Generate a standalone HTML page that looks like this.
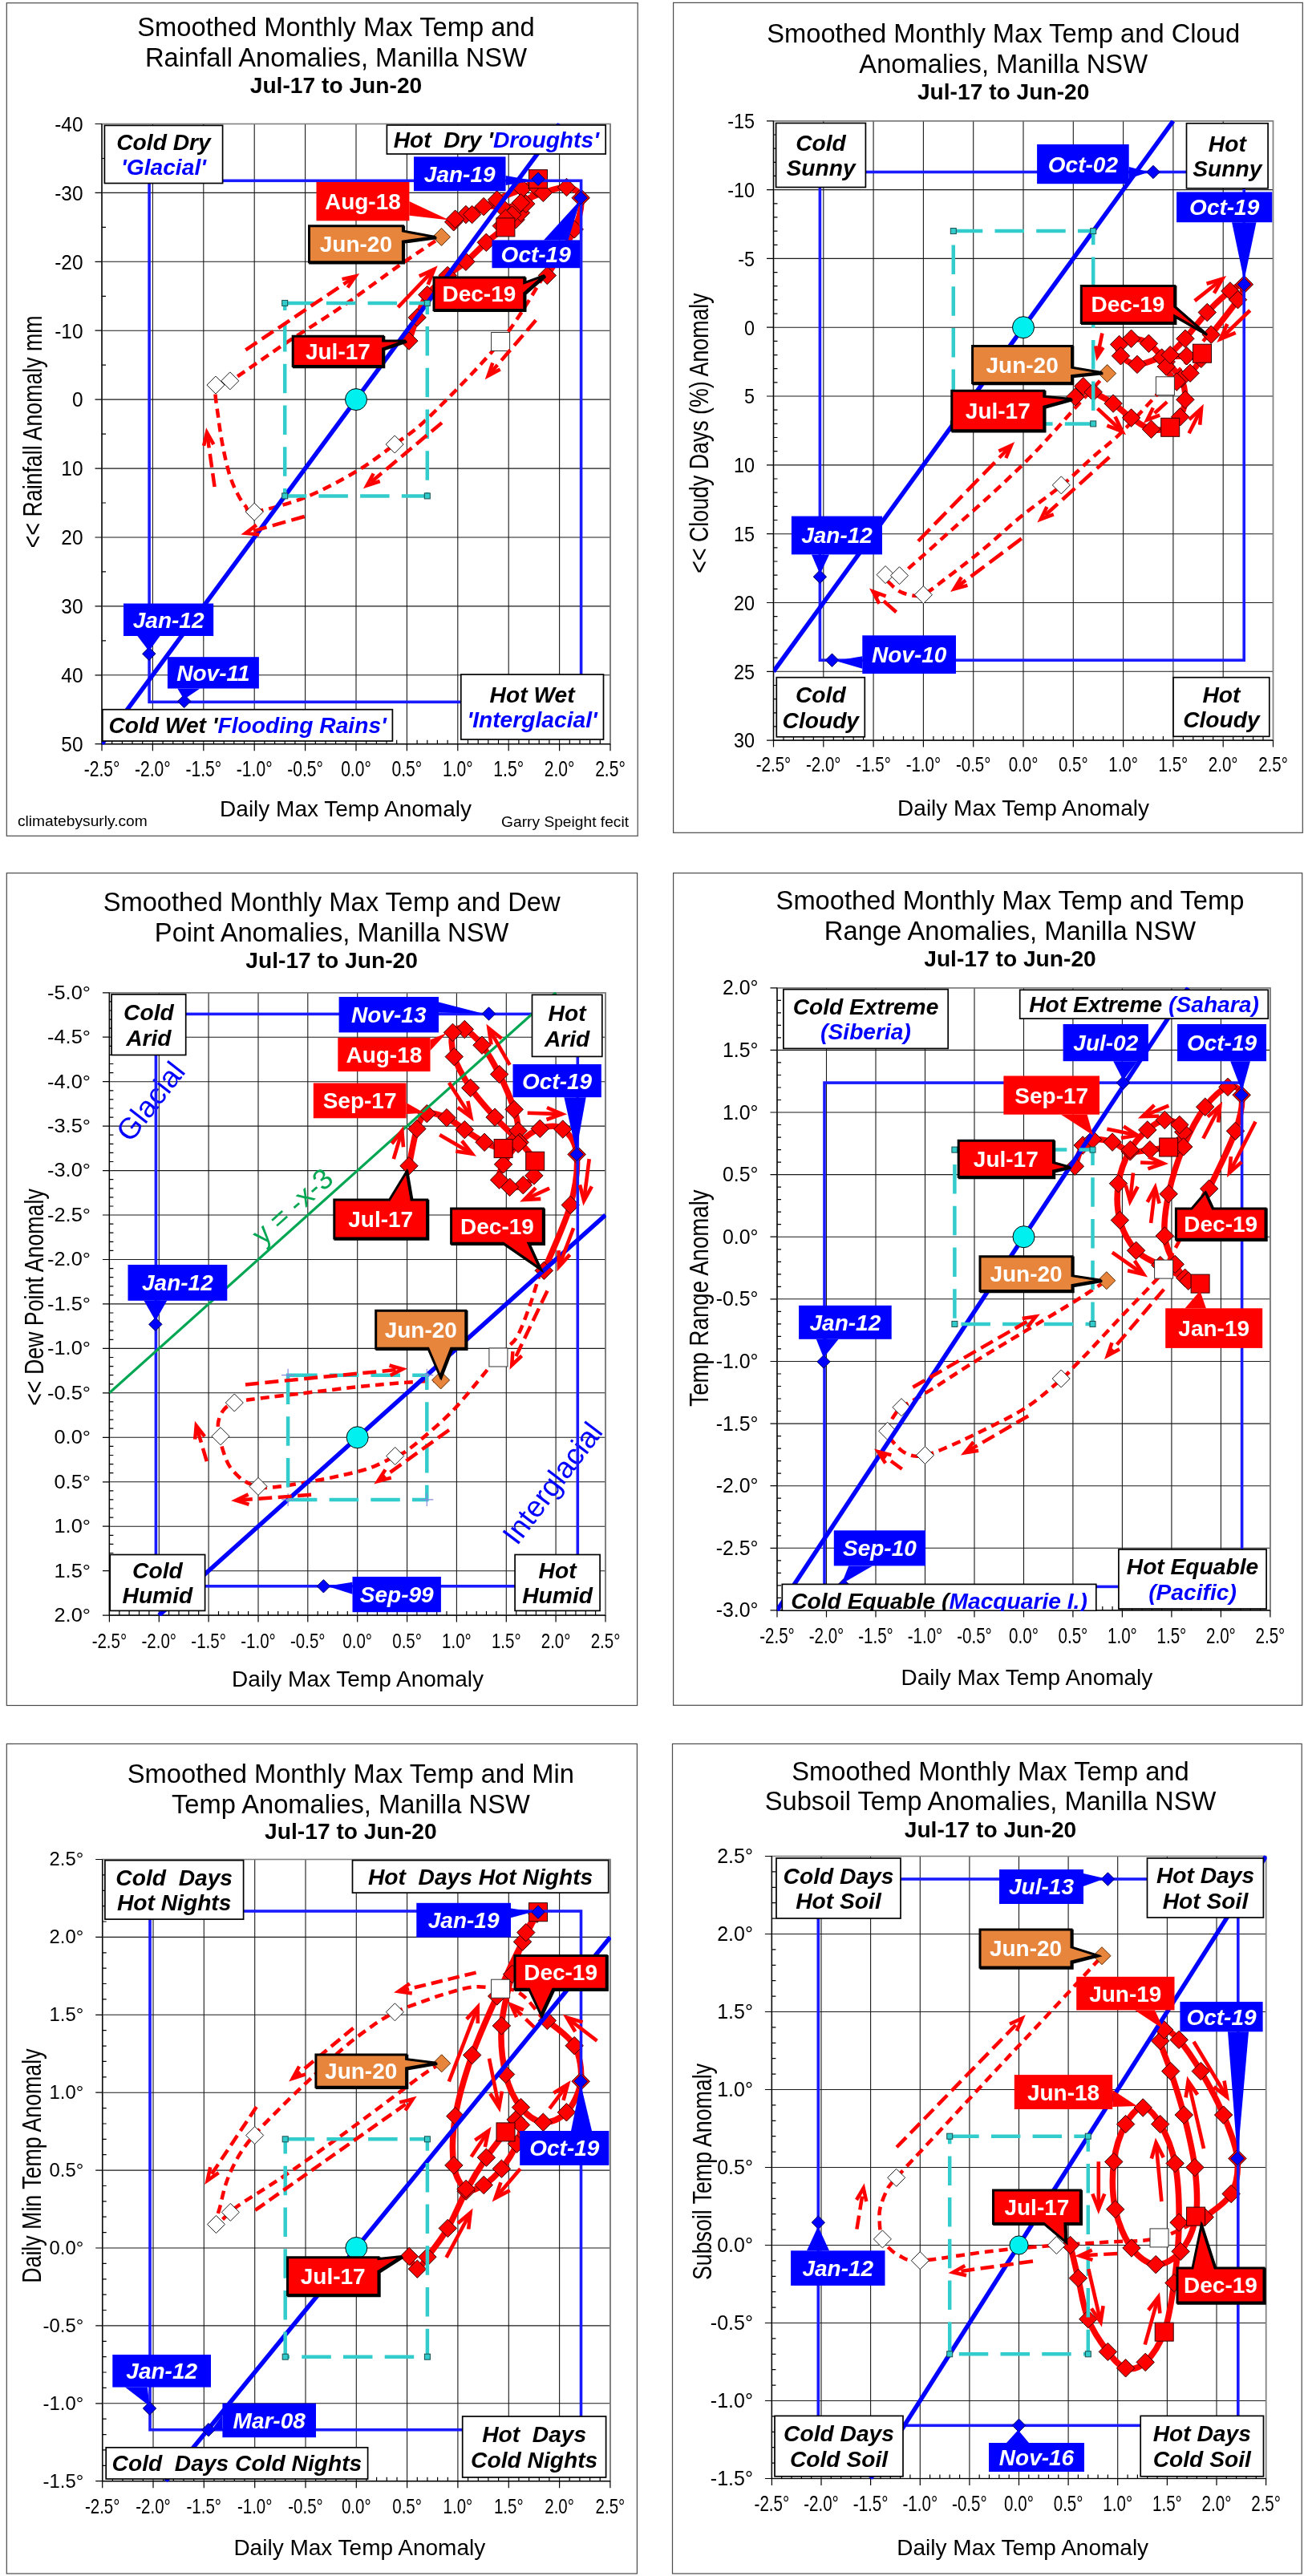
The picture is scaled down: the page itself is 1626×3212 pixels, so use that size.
<!DOCTYPE html>
<html><head><meta charset="utf-8"><title>Manilla NSW climate anomalies</title>
<style>
html,body{margin:0;padding:0;background:#fff;}
svg{display:block;font-family:"Liberation Sans",sans-serif;will-change:transform;}
</style></head><body>
<svg width="1626" height="3212" viewBox="0 0 1626 3212" font-family="Liberation Sans, sans-serif">
<rect width="1626" height="3212" fill="#fff"/>
<g id="p1"><rect x="8.3" y="3.7" width="786.9000000000001" height="1038.6" fill="#fff" stroke="#4a4a4a" stroke-width="1.2"/>
<text x="419.0" y="45.3" font-size="32.7" font-weight="normal" font-style="normal" fill="#000" text-anchor="middle" >Smoothed Monthly Max Temp and</text>
<text x="419.0" y="83.3" font-size="32.7" font-weight="normal" font-style="normal" fill="#000" text-anchor="middle" >Rainfall Anomalies, Manilla NSW</text>
<text x="419.0" y="115.9" font-size="28.2" font-weight="bold" font-style="normal" fill="#000" text-anchor="middle" >Jul-17 to Jun-20</text>
<path d="M127.0,154.5V927.7M190.4,154.5V927.7M253.8,154.5V927.7M317.2,154.5V927.7M380.6,154.5V927.7M444.0,154.5V927.7M507.4,154.5V927.7M570.8,154.5V927.7M634.2,154.5V927.7M697.6,154.5V927.7M761.0,154.5V927.7M127,154.5H761M127,240.4H761M127,326.3H761M127,412.2H761M127,498.1H761M127,584.1H761M127,670.0H761M127,755.9H761M127,841.8H761M127,927.7H761" stroke="#1a1a1a" stroke-width="1.1" fill="none"/>
<rect x="127" y="154.5" width="634" height="773.2" fill="none" stroke="#808080" stroke-width="1.6"/>
<path d="M127,154.5V927.7M127,927.7H761M127.0,927.7v8.5M139.7,927.7v-5M152.4,927.7v-5M165.0,927.7v-5M177.7,927.7v-5M190.4,927.7v8.5M203.1,927.7v-5M215.8,927.7v-5M228.4,927.7v-5M241.1,927.7v-5M253.8,927.7v8.5M266.5,927.7v-5M279.2,927.7v-5M291.8,927.7v-5M304.5,927.7v-5M317.2,927.7v8.5M329.9,927.7v-5M342.6,927.7v-5M355.2,927.7v-5M367.9,927.7v-5M380.6,927.7v8.5M393.3,927.7v-5M406.0,927.7v-5M418.6,927.7v-5M431.3,927.7v-5M444.0,927.7v8.5M456.7,927.7v-5M469.4,927.7v-5M482.0,927.7v-5M494.7,927.7v-5M507.4,927.7v8.5M520.1,927.7v-5M532.8,927.7v-5M545.4,927.7v-5M558.1,927.7v-5M570.8,927.7v8.5M583.5,927.7v-5M596.2,927.7v-5M608.8,927.7v-5M621.5,927.7v-5M634.2,927.7v8.5M646.9,927.7v-5M659.6,927.7v-5M672.2,927.7v-5M684.9,927.7v-5M697.6,927.7v8.5M710.3,927.7v-5M723.0,927.7v-5M735.6,927.7v-5M748.3,927.7v-5M761.0,927.7v8.5M127,154.5h-8.5M127,240.4h-8.5M127,326.3h-8.5M127,412.2h-8.5M127,498.1h-8.5M127,584.1h-8.5M127,670.0h-8.5M127,755.9h-8.5M127,841.8h-8.5M127,927.7h-8.5M127,197.5h5M127,283.4h5M127,369.3h5M127,455.2h5M127,541.1h5M127,627.0h5M127,712.9h5M127,798.8h5M127,884.7h5" stroke="#000" stroke-width="1.2" fill="none"/>
<text transform="translate(127.0,967.5) scale(0.78,1)" font-size="27" fill="#000" text-anchor="middle">-2.5°</text>
<text transform="translate(190.4,967.5) scale(0.78,1)" font-size="27" fill="#000" text-anchor="middle">-2.0°</text>
<text transform="translate(253.8,967.5) scale(0.78,1)" font-size="27" fill="#000" text-anchor="middle">-1.5°</text>
<text transform="translate(317.2,967.5) scale(0.78,1)" font-size="27" fill="#000" text-anchor="middle">-1.0°</text>
<text transform="translate(380.6,967.5) scale(0.78,1)" font-size="27" fill="#000" text-anchor="middle">-0.5°</text>
<text transform="translate(444.0,967.5) scale(0.78,1)" font-size="27" fill="#000" text-anchor="middle">0.0°</text>
<text transform="translate(507.4,967.5) scale(0.78,1)" font-size="27" fill="#000" text-anchor="middle">0.5°</text>
<text transform="translate(570.8,967.5) scale(0.78,1)" font-size="27" fill="#000" text-anchor="middle">1.0°</text>
<text transform="translate(634.2,967.5) scale(0.78,1)" font-size="27" fill="#000" text-anchor="middle">1.5°</text>
<text transform="translate(697.6,967.5) scale(0.78,1)" font-size="27" fill="#000" text-anchor="middle">2.0°</text>
<text transform="translate(761.0,967.5) scale(0.78,1)" font-size="27" fill="#000" text-anchor="middle">2.5°</text>
<text transform="translate(103.5,163.8) scale(0.94,1)" font-size="26" fill="#000" text-anchor="end">-40</text>
<text transform="translate(103.5,249.7) scale(0.94,1)" font-size="26" fill="#000" text-anchor="end">-30</text>
<text transform="translate(103.5,335.6) scale(0.94,1)" font-size="26" fill="#000" text-anchor="end">-20</text>
<text transform="translate(103.5,421.5) scale(0.94,1)" font-size="26" fill="#000" text-anchor="end">-10</text>
<text transform="translate(103.5,507.4) scale(0.94,1)" font-size="26" fill="#000" text-anchor="end">0</text>
<text transform="translate(103.5,593.4) scale(0.94,1)" font-size="26" fill="#000" text-anchor="end">10</text>
<text transform="translate(103.5,679.3) scale(0.94,1)" font-size="26" fill="#000" text-anchor="end">20</text>
<text transform="translate(103.5,765.2) scale(0.94,1)" font-size="26" fill="#000" text-anchor="end">30</text>
<text transform="translate(103.5,851.1) scale(0.94,1)" font-size="26" fill="#000" text-anchor="end">40</text>
<text transform="translate(103.5,937.0) scale(0.94,1)" font-size="26" fill="#000" text-anchor="end">50</text>
<text transform="translate(431.0,1017.5) scale(1.0,1)" font-size="28" fill="#000" text-anchor="middle">Daily Max Temp Anomaly</text>
<text transform="translate(51.7,538.3) rotate(-90) scale(0.787,1)" font-size="34" text-anchor="middle">&lt;&lt; Rainfall Anomaly mm</text>
<clipPath id="clip1"><rect x="127" y="153.5" width="635" height="775.2"/></clipPath>
<path d="M678.6,343.5C669.5,357.3 648.0,396.6 624.1,426.0C600.1,455.4 556.9,498.7 534.9,520.1C512.9,541.4 507.2,542.7 492.2,554.0C477.2,565.2 463.4,576.5 444.8,587.5C426.2,598.5 401.9,611.7 380.6,620.1C359.3,628.6 329.6,636.3 317.2,638.2C304.8,640.0 309.7,634.9 306.3,631.3C302.9,627.7 299.9,622.9 296.7,616.7C293.4,610.5 290.0,603.5 287.0,594.4C284.1,585.2 281.3,573.6 278.9,561.7C276.5,549.8 274.2,536.7 272.6,523.1C270.9,509.5 266.6,488.1 269.0,480.1C271.4,472.1 282.3,476.7 286.8,474.9C291.2,473.2 283.8,477.8 295.6,469.8C307.5,461.8 336.2,441.3 357.8,426.8C379.4,412.4 401.7,399.2 425.4,383.0C449.0,366.8 478.7,344.4 499.5,329.8C520.4,315.2 542.0,301.1 550.5,295.4" fill="none" stroke="#FF0000" stroke-width="4.5" stroke-dasharray="11 7"/>
<path d="M509.9,425.1C511.6,420.3 516.3,405.5 520.1,395.9C523.9,386.3 526.4,376.3 532.8,367.6C539.1,358.8 550.1,350.4 558.1,343.5C566.2,336.6 572.9,333.2 580.9,326.3C589.0,319.4 598.1,309.4 606.3,302.3C614.5,295.1 624.3,288.1 630.4,283.4C636.5,278.6 639.9,276.9 643.1,273.9C646.2,270.9 649.2,267.9 649.4,265.3C649.6,262.7 648.4,259.7 644.3,258.5C640.3,257.2 632.2,257.7 625.3,257.6C618.5,257.5 610.5,255.9 603.1,257.6C595.7,259.2 587.2,264.3 580.9,267.5C574.7,270.7 567.9,275.9 565.7,276.8C563.5,277.8 563.8,274.6 567.6,273.1C571.4,271.5 579.9,271.5 588.6,267.5C597.2,263.5 609.1,254.4 619.6,249.0C630.1,243.6 642.9,239.6 651.4,235.3C660.0,231.0 667.9,223.4 671.0,223.2C674.0,223.1 672.2,229.2 669.7,234.4C667.2,239.6 660.9,248.6 655.8,254.2C650.6,259.7 643.7,263.3 638.6,267.9C633.6,272.5 626.7,280.9 625.3,281.6C624.0,282.4 626.4,277.0 630.4,272.2C634.4,267.4 641.6,258.1 649.4,252.8C657.2,247.5 667.8,243.6 677.3,240.4C686.8,237.2 698.7,232.5 706.5,233.5C714.3,234.6 722.6,237.9 724.2,246.7C725.9,255.4 723.2,269.8 716.2,285.9C709.3,302.1 688.0,333.9 682.4,343.5" fill="none" stroke="#FF0000" stroke-width="7.5" stroke-linejoin="round"/>
<path d="M509.9,413.9L521.1,425.1L509.9,436.3L498.7,425.1Z" fill="#FF0000" stroke="#300000" stroke-width="1"/>
<path d="M520.1,384.7L531.3,395.9L520.1,407.1L508.9,395.9Z" fill="#FF0000" stroke="#300000" stroke-width="1"/>
<path d="M532.8,356.4L544.0,367.6L532.8,378.8L521.6,367.6Z" fill="#FF0000" stroke="#300000" stroke-width="1"/>
<path d="M558.1,332.3L569.3,343.5L558.1,354.7L546.9,343.5Z" fill="#FF0000" stroke="#300000" stroke-width="1"/>
<path d="M580.9,315.1L592.1,326.3L580.9,337.5L569.7,326.3Z" fill="#FF0000" stroke="#300000" stroke-width="1"/>
<path d="M606.3,291.1L617.5,302.3L606.3,313.5L595.1,302.3Z" fill="#FF0000" stroke="#300000" stroke-width="1"/>
<path d="M643.1,262.7L654.3,273.9L643.1,285.1L631.9,273.9Z" fill="#FF0000" stroke="#300000" stroke-width="1"/>
<path d="M649.4,254.1L660.6,265.3L649.4,276.5L638.2,265.3Z" fill="#FF0000" stroke="#300000" stroke-width="1"/>
<path d="M644.3,247.3L655.5,258.5L644.3,269.7L633.1,258.5Z" fill="#FF0000" stroke="#300000" stroke-width="1"/>
<path d="M625.3,246.4L636.5,257.6L625.3,268.8L614.1,257.6Z" fill="#FF0000" stroke="#300000" stroke-width="1"/>
<path d="M603.1,246.4L614.3,257.6L603.1,268.8L591.9,257.6Z" fill="#FF0000" stroke="#300000" stroke-width="1"/>
<path d="M580.9,256.3L592.1,267.5L580.9,278.7L569.7,267.5Z" fill="#FF0000" stroke="#300000" stroke-width="1"/>
<path d="M565.7,265.6L576.9,276.8L565.7,288.0L554.5,276.8Z" fill="#FF0000" stroke="#300000" stroke-width="1"/>
<path d="M567.6,261.9L578.8,273.1L567.6,284.3L556.4,273.1Z" fill="#FF0000" stroke="#300000" stroke-width="1"/>
<path d="M588.6,256.3L599.8,267.5L588.6,278.7L577.4,267.5Z" fill="#FF0000" stroke="#300000" stroke-width="1"/>
<path d="M619.6,237.8L630.8,249.0L619.6,260.2L608.4,249.0Z" fill="#FF0000" stroke="#300000" stroke-width="1"/>
<path d="M651.4,224.1L662.6,235.3L651.4,246.5L640.2,235.3Z" fill="#FF0000" stroke="#300000" stroke-width="1"/>
<path d="M669.7,223.2L680.9,234.4L669.7,245.6L658.5,234.4Z" fill="#FF0000" stroke="#300000" stroke-width="1"/>
<path d="M655.8,243.0L667.0,254.2L655.8,265.4L644.6,254.2Z" fill="#FF0000" stroke="#300000" stroke-width="1"/>
<path d="M638.6,256.7L649.8,267.9L638.6,279.1L627.4,267.9Z" fill="#FF0000" stroke="#300000" stroke-width="1"/>
<path d="M625.3,270.4L636.5,281.6L625.3,292.8L614.1,281.6Z" fill="#FF0000" stroke="#300000" stroke-width="1"/>
<path d="M630.4,261.0L641.6,272.2L630.4,283.4L619.2,272.2Z" fill="#FF0000" stroke="#300000" stroke-width="1"/>
<path d="M649.4,241.6L660.6,252.8L649.4,264.0L638.2,252.8Z" fill="#FF0000" stroke="#300000" stroke-width="1"/>
<path d="M677.3,229.2L688.5,240.4L677.3,251.6L666.1,240.4Z" fill="#FF0000" stroke="#300000" stroke-width="1"/>
<path d="M706.5,222.3L717.7,233.5L706.5,244.7L695.3,233.5Z" fill="#FF0000" stroke="#300000" stroke-width="1"/>
<path d="M724.2,235.5L735.4,246.7L724.2,257.9L713.0,246.7Z" fill="#FF0000" stroke="#300000" stroke-width="1"/>
<path d="M716.2,274.7L727.4,285.9L716.2,297.1L705.0,285.9Z" fill="#FF0000" stroke="#300000" stroke-width="1"/>
<path d="M682.4,332.3L693.6,343.5L682.4,354.7L671.2,343.5Z" fill="#FF0000" stroke="#300000" stroke-width="1"/>
<rect x="612.6" y="414.5" width="23.0" height="23.0" fill="#fff" stroke="#333" stroke-width="1"/>
<path d="M492.2,543.0L503.2,554.0L492.2,565.0L481.2,554.0Z" fill="#fff" stroke="#222" stroke-width="1"/>
<path d="M317.2,627.2L328.2,638.2L317.2,649.2L306.2,638.2Z" fill="#fff" stroke="#222" stroke-width="1"/>
<path d="M269.0,469.1L280.0,480.1L269.0,491.1L258.0,480.1Z" fill="#fff" stroke="#222" stroke-width="1"/>
<path d="M286.8,463.9L297.8,474.9L286.8,485.9L275.8,474.9Z" fill="#fff" stroke="#222" stroke-width="1"/>
<path d="M550.5,284.4L561.5,295.4L550.5,306.4L539.5,295.4Z" fill="#E8853D" stroke="#5a2a00" stroke-width="1"/>
<rect x="618.9" y="271.9" width="23.0" height="23.0" fill="#FF0000" stroke="#300000" stroke-width="1"/>
<rect x="659.5" y="211.7" width="23.0" height="23.0" fill="#FF0000" stroke="#300000" stroke-width="1"/>
<g clip-path="url(#clip1)">
<rect x="186.1" y="225.3" width="538.5" height="650.0" fill="none" stroke="#1a1aff" stroke-width="3.6"/>
<line x1="127.0" y1="927.7" x2="697.6" y2="154.5" stroke="#0000FF" stroke-width="5.5"/>
</g>
<path d="M355.2,377.9H532.8V618.4H355.2Z" fill="none" stroke="#33CCCC" stroke-width="4.5" stroke-dasharray="36.5 15.2" stroke-dashoffset="0"/>
<rect x="351.7" y="374.4" width="7" height="7" fill="#33CCCC" stroke="#1a4d4d" stroke-width="1"/>
<rect x="529.3" y="374.4" width="7" height="7" fill="#33CCCC" stroke="#1a4d4d" stroke-width="1"/>
<rect x="529.3" y="614.9" width="7" height="7" fill="#33CCCC" stroke="#1a4d4d" stroke-width="1"/>
<rect x="351.7" y="614.9" width="7" height="7" fill="#33CCCC" stroke="#1a4d4d" stroke-width="1"/>
<circle cx="444.0" cy="498.1" r="13.5" fill="#00F0F0" stroke="#000" stroke-width="1"/>
<path d="M306.3,436.3L443.2,344.5" fill="none" stroke="#FF0000" stroke-width="4.5" stroke-dasharray="17 7.5"/><path d="M433.5,358.5L443.2,344.5L426.6,348.1" fill="none" stroke="#FF0000" stroke-width="4.5" stroke-linejoin="miter"/>
<path d="M267.6,607.0L258.0,539.3" fill="none" stroke="#FF0000" stroke-width="4.5" stroke-dasharray="17 7.5"/><path d="M266.4,554.1L258.0,539.3L254.1,555.8" fill="none" stroke="#FF0000" stroke-width="4.5" stroke-linejoin="miter"/>
<path d="M551.0,527.1L457.6,605.4" fill="none" stroke="#FF0000" stroke-width="4.5" stroke-dasharray="17 7.5"/><path d="M465.7,590.5L457.6,605.4L473.7,600.0" fill="none" stroke="#FF0000" stroke-width="4.5" stroke-linejoin="miter"/>
<path d="M379.7,644.0L306.3,664.9" fill="none" stroke="#FF0000" stroke-width="4.5" stroke-dasharray="17 7.5"/><path d="M319.8,654.6L306.3,664.9L323.2,666.6" fill="none" stroke="#FF0000" stroke-width="4.5" stroke-linejoin="miter"/>
<path d="M496.3,383.1L541.4,335.8" fill="none" stroke="#FF0000" stroke-width="4.6"/><path d="M533.7,354.8L541.4,335.8L522.8,344.4" fill="none" stroke="#FF0000" stroke-width="4.6" stroke-linejoin="miter"/>
<path d="M668.2,399.3L608.7,468.5" fill="none" stroke="#FF0000" stroke-width="4.5" stroke-dasharray="17 7.5"/><path d="M614.3,452.4L608.7,468.5L623.7,460.6" fill="none" stroke="#FF0000" stroke-width="4.5" stroke-linejoin="miter"/>
<path d="M671.0,215.0L679.2,223.2L671.0,231.4L662.8,223.2Z" fill="#0000FF" stroke="#000060" stroke-width="1"/>
<path d="M724.2,238.5L732.4,246.7L724.2,254.9L716.0,246.7Z" fill="#0000FF" stroke="#000060" stroke-width="1"/>
<path d="M185.8,807.0L194.0,815.2L185.8,823.4L177.6,815.2Z" fill="#0000FF" stroke="#000060" stroke-width="1"/>
<path d="M229.7,866.2L237.9,874.4L229.7,882.6L221.5,874.4Z" fill="#0000FF" stroke="#000060" stroke-width="1"/>
<rect x="130.4" y="156.4" width="147.2" height="72.1" fill="#fff" stroke="#000" stroke-width="1.7"/><text x="204.0" y="186.7" font-size="28.2" font-weight="bold" font-style="italic" text-anchor="middle" xml:space="preserve"><tspan fill="#000">Cold Dry</tspan></text><text x="204.0" y="218.3" font-size="28.2" font-weight="bold" font-style="italic" text-anchor="middle" xml:space="preserve"><tspan fill="#0000FF">'Glacial'</tspan></text><rect x="482.4" y="156.0" width="272.8" height="36.0" fill="#fff" stroke="#000" stroke-width="1.7"/><text x="618.8" y="184.0" font-size="28.2" font-weight="bold" font-style="italic" text-anchor="middle" xml:space="preserve"><tspan fill="#000">Hot  Dry '</tspan><tspan fill="#0000FF">Droughts'</tspan></text><rect x="127.8" y="884.7" width="361.6" height="39.3" fill="#fff" stroke="#000" stroke-width="1.7"/><text x="308.6" y="914.4" font-size="28.2" font-weight="bold" font-style="italic" text-anchor="middle" xml:space="preserve"><tspan fill="#000">Cold Wet '</tspan><tspan fill="#0000FF">Flooding Rains'</tspan></text><rect x="574.8" y="841.0" width="177.7" height="81.0" fill="#fff" stroke="#000" stroke-width="1.7"/><text x="663.6" y="875.7" font-size="28.2" font-weight="bold" font-style="italic" text-anchor="middle" xml:space="preserve"><tspan fill="#000">Hot Wet</tspan></text><text x="663.6" y="907.3" font-size="28.2" font-weight="bold" font-style="italic" text-anchor="middle" xml:space="preserve"><tspan fill="#0000FF">'Interglacial'</tspan></text><path d="M630.5,219.0L666.0,225.3L630.5,231.0Z" fill="#0000FF"/><rect x="516.0" y="195.4" width="114.5" height="42.8" fill="#0000FF"/><text x="573.2" y="226.7" font-size="28" font-weight="bold" font-style="italic" fill="#fff" text-anchor="middle" >Jan-19</text><path d="M510.4,251.1L560.4,274.6L510.4,268.8Z" fill="#FF0000"/><rect x="394.5" y="227.0" width="115.9" height="48.3" fill="#FF0000"/><text x="452.4" y="261.1" font-size="28" font-weight="bold" font-style="normal" fill="#fff" text-anchor="middle" >Aug-18</text><path d="M385.5,281.7L502.4,281.7L502.4,288.1L543.0,295.6L502.4,301.0L502.4,326.8L385.5,326.8Z" fill="#000" stroke="#000" stroke-width="3" transform="translate(1.2,1.2)"/><path d="M385.5,281.7L502.4,281.7L502.4,288.1L543.0,295.6L502.4,301.0L502.4,326.8L385.5,326.8Z" fill="#E8853D" stroke="#000" stroke-width="3" stroke-linejoin="miter"/><text x="443.9" y="314.2" font-size="28" font-weight="bold" font-style="normal" fill="#fff" text-anchor="middle" >Jun-20</text><path d="M677.9,299.4L724.0,249.0L708.5,299.4Z" fill="#0000FF"/><rect x="613.5" y="299.4" width="109.5" height="34.8" fill="#0000FF"/><text x="668.2" y="326.7" font-size="28" font-weight="bold" font-style="italic" fill="#fff" text-anchor="middle" >Oct-19</text><path d="M541.0,346.1L653.8,346.1L653.8,352.6L679.0,343.5L653.8,365.4L653.8,386.4L541.0,386.4Z" fill="#000" stroke="#000" stroke-width="3" transform="translate(1.2,1.2)"/><path d="M541.0,346.1L653.8,346.1L653.8,352.6L679.0,343.5L653.8,365.4L653.8,386.4L541.0,386.4Z" fill="#FF0000" stroke="#000" stroke-width="3" stroke-linejoin="miter"/><text x="597.4" y="376.2" font-size="28" font-weight="bold" font-style="normal" fill="#fff" text-anchor="middle" >Dec-19</text><path d="M365.2,419.2L477.6,419.2L477.6,425.0L506.0,425.0L477.6,434.7L477.6,456.6L365.2,456.6Z" fill="#000" stroke="#000" stroke-width="3" transform="translate(1.2,1.2)"/><path d="M365.2,419.2L477.6,419.2L477.6,425.0L506.0,425.0L477.6,434.7L477.6,456.6L365.2,456.6Z" fill="#FF0000" stroke="#000" stroke-width="3" stroke-linejoin="miter"/><text x="421.4" y="447.8" font-size="28" font-weight="bold" font-style="normal" fill="#fff" text-anchor="middle" >Jul-17</text><path d="M171.4,793.0L185.8,812.0L199.5,793.0Z" fill="#0000FF"/><rect x="154.0" y="752.5" width="112.2" height="40.5" fill="#0000FF"/><text x="210.1" y="782.7" font-size="28" font-weight="bold" font-style="italic" fill="#fff" text-anchor="middle" >Jan-12</text><path d="M221.3,858.5L229.4,872.0L249.4,858.5Z" fill="#0000FF"/><rect x="208.9" y="819.2" width="114.0" height="39.3" fill="#0000FF"/><text x="265.9" y="848.8" font-size="28" font-weight="bold" font-style="italic" fill="#fff" text-anchor="middle" >Nov-11</text><text x="22" y="1030" font-size="19.2">climatebysurly.com</text><text x="784" y="1031" font-size="19.2" text-anchor="end">Garry Speight fecit</text></g>
<g id="p2"><rect x="839.6" y="3.4" width="784.6999999999999" height="1034.8999999999999" fill="#fff" stroke="#4a4a4a" stroke-width="1.2"/>
<text x="1251.2" y="53.0" font-size="32.7" font-weight="normal" font-style="normal" fill="#000" text-anchor="middle" >Smoothed Monthly Max Temp and Cloud</text>
<text x="1251.2" y="91.3" font-size="32.7" font-weight="normal" font-style="normal" fill="#000" text-anchor="middle" >Anomalies, Manilla NSW</text>
<text x="1251.2" y="123.7" font-size="28.2" font-weight="bold" font-style="normal" fill="#000" text-anchor="middle" >Jul-17 to Jun-20</text>
<path d="M964.5,150.8V923.1M1026.8,150.8V923.1M1089.1,150.8V923.1M1151.4,150.8V923.1M1213.7,150.8V923.1M1276.0,150.8V923.1M1338.3,150.8V923.1M1400.6,150.8V923.1M1462.9,150.8V923.1M1525.2,150.8V923.1M1587.5,150.8V923.1M964.5,150.8H1587.5M964.5,236.6H1587.5M964.5,322.4H1587.5M964.5,408.2H1587.5M964.5,494.0H1587.5M964.5,579.9H1587.5M964.5,665.7H1587.5M964.5,751.5H1587.5M964.5,837.3H1587.5M964.5,923.1H1587.5" stroke="#1a1a1a" stroke-width="1.1" fill="none"/>
<rect x="964.5" y="150.8" width="623.0" height="772.3" fill="none" stroke="#808080" stroke-width="1.6"/>
<path d="M964.5,150.8V923.1M964.5,923.1H1587.5M964.5,923.1v8.5M977.0,923.1v-5M989.4,923.1v-5M1001.9,923.1v-5M1014.3,923.1v-5M1026.8,923.1v8.5M1039.3,923.1v-5M1051.7,923.1v-5M1064.2,923.1v-5M1076.6,923.1v-5M1089.1,923.1v8.5M1101.6,923.1v-5M1114.0,923.1v-5M1126.5,923.1v-5M1138.9,923.1v-5M1151.4,923.1v8.5M1163.9,923.1v-5M1176.3,923.1v-5M1188.8,923.1v-5M1201.2,923.1v-5M1213.7,923.1v8.5M1226.2,923.1v-5M1238.6,923.1v-5M1251.1,923.1v-5M1263.5,923.1v-5M1276.0,923.1v8.5M1288.5,923.1v-5M1300.9,923.1v-5M1313.4,923.1v-5M1325.8,923.1v-5M1338.3,923.1v8.5M1350.8,923.1v-5M1363.2,923.1v-5M1375.7,923.1v-5M1388.1,923.1v-5M1400.6,923.1v8.5M1413.1,923.1v-5M1425.5,923.1v-5M1438.0,923.1v-5M1450.4,923.1v-5M1462.9,923.1v8.5M1475.4,923.1v-5M1487.8,923.1v-5M1500.3,923.1v-5M1512.7,923.1v-5M1525.2,923.1v8.5M1537.7,923.1v-5M1550.1,923.1v-5M1562.6,923.1v-5M1575.0,923.1v-5M1587.5,923.1v8.5M964.5,150.8h-8.5M964.5,236.6h-8.5M964.5,322.4h-8.5M964.5,408.2h-8.5M964.5,494.0h-8.5M964.5,579.9h-8.5M964.5,665.7h-8.5M964.5,751.5h-8.5M964.5,837.3h-8.5M964.5,923.1h-8.5M964.5,168.0h5M964.5,185.1h5M964.5,202.3h5M964.5,219.4h5M964.5,253.8h5M964.5,270.9h5M964.5,288.1h5M964.5,305.3h5M964.5,339.6h5M964.5,356.7h5M964.5,373.9h5M964.5,391.1h5M964.5,425.4h5M964.5,442.6h5M964.5,459.7h5M964.5,476.9h5M964.5,511.2h5M964.5,528.4h5M964.5,545.5h5M964.5,562.7h5M964.5,597.0h5M964.5,614.2h5M964.5,631.3h5M964.5,648.5h5M964.5,682.8h5M964.5,700.0h5M964.5,717.2h5M964.5,734.3h5M964.5,768.6h5M964.5,785.8h5M964.5,803.0h5M964.5,820.1h5M964.5,854.5h5M964.5,871.6h5M964.5,888.8h5M964.5,905.9h5" stroke="#000" stroke-width="1.2" fill="none"/>
<text transform="translate(964.5,962.4) scale(0.82,1)" font-size="25" fill="#000" text-anchor="middle">-2.5°</text>
<text transform="translate(1026.8,962.4) scale(0.82,1)" font-size="25" fill="#000" text-anchor="middle">-2.0°</text>
<text transform="translate(1089.1,962.4) scale(0.82,1)" font-size="25" fill="#000" text-anchor="middle">-1.5°</text>
<text transform="translate(1151.4,962.4) scale(0.82,1)" font-size="25" fill="#000" text-anchor="middle">-1.0°</text>
<text transform="translate(1213.7,962.4) scale(0.82,1)" font-size="25" fill="#000" text-anchor="middle">-0.5°</text>
<text transform="translate(1276.0,962.4) scale(0.82,1)" font-size="25" fill="#000" text-anchor="middle">0.0°</text>
<text transform="translate(1338.3,962.4) scale(0.82,1)" font-size="25" fill="#000" text-anchor="middle">0.5°</text>
<text transform="translate(1400.6,962.4) scale(0.82,1)" font-size="25" fill="#000" text-anchor="middle">1.0°</text>
<text transform="translate(1462.9,962.4) scale(0.82,1)" font-size="25" fill="#000" text-anchor="middle">1.5°</text>
<text transform="translate(1525.2,962.4) scale(0.82,1)" font-size="25" fill="#000" text-anchor="middle">2.0°</text>
<text transform="translate(1587.5,962.4) scale(0.82,1)" font-size="25" fill="#000" text-anchor="middle">2.5°</text>
<text transform="translate(941.0,160.1) scale(0.9,1)" font-size="26" fill="#000" text-anchor="end">-15</text>
<text transform="translate(941.0,245.9) scale(0.9,1)" font-size="26" fill="#000" text-anchor="end">-10</text>
<text transform="translate(941.0,331.7) scale(0.9,1)" font-size="26" fill="#000" text-anchor="end">-5</text>
<text transform="translate(941.0,417.5) scale(0.9,1)" font-size="26" fill="#000" text-anchor="end">0</text>
<text transform="translate(941.0,503.3) scale(0.9,1)" font-size="26" fill="#000" text-anchor="end">5</text>
<text transform="translate(941.0,589.2) scale(0.9,1)" font-size="26" fill="#000" text-anchor="end">10</text>
<text transform="translate(941.0,675.0) scale(0.9,1)" font-size="26" fill="#000" text-anchor="end">15</text>
<text transform="translate(941.0,760.8) scale(0.9,1)" font-size="26" fill="#000" text-anchor="end">20</text>
<text transform="translate(941.0,846.6) scale(0.9,1)" font-size="26" fill="#000" text-anchor="end">25</text>
<text transform="translate(941.0,932.4) scale(0.9,1)" font-size="26" fill="#000" text-anchor="end">30</text>
<text transform="translate(1276.0,1016.7) scale(1.0,1)" font-size="28" fill="#000" text-anchor="middle">Daily Max Temp Anomaly</text>
<text transform="translate(882.5,540) rotate(-90) scale(0.787,1)" font-size="34" text-anchor="middle">&lt;&lt; Cloudy Days (%) Anomaly</text>
<clipPath id="clip2"><rect x="964.5" y="149.8" width="624.0" height="774.3"/></clipPath>
<path d="M1506.9,417.2C1502.0,423.1 1486.9,442.2 1477.9,452.9C1468.8,463.6 1465.3,467.3 1452.4,481.3C1439.6,495.4 1415.5,522.2 1400.6,537.0C1385.7,551.7 1375.9,558.2 1363.2,569.6C1350.5,580.9 1339.3,592.6 1324.3,604.9C1309.4,617.2 1290.2,630.1 1273.8,643.5C1257.3,656.9 1241.0,672.6 1225.4,685.4C1209.8,698.2 1192.9,711.2 1180.3,720.6C1167.7,730.0 1158.8,738.5 1149.8,741.7C1140.8,744.8 1132.9,741.6 1126.5,739.5C1120.1,737.4 1115.6,733.0 1111.5,729.2C1107.5,725.4 1100.8,718.6 1102.3,716.6C1103.8,714.7 1114.6,719.9 1120.7,717.7C1126.9,715.5 1127.6,713.2 1138.9,703.4C1150.3,693.6 1172.2,673.7 1188.8,658.8C1205.4,643.9 1222.0,629.6 1238.6,614.2C1255.2,598.7 1271.8,583.3 1288.5,566.1C1305.1,549.0 1323.1,528.0 1338.3,511.2C1353.5,494.4 1373.0,473.2 1379.9,465.6" fill="none" stroke="#FF0000" stroke-width="4.5" stroke-dasharray="11 7"/>
<path d="M1340.8,494.9C1342.5,492.7 1347.0,482.7 1350.8,481.7C1354.5,480.7 1357.0,485.3 1363.2,488.9C1369.5,492.5 1380.2,497.8 1388.1,503.1C1396.0,508.5 1402.7,515.6 1410.6,521.0C1418.5,526.3 1427.4,533.3 1435.5,535.2C1443.6,537.2 1453.1,535.4 1459.2,532.8C1465.2,530.3 1468.5,525.5 1471.6,519.8C1474.7,514.0 1477.6,506.3 1477.9,498.3C1478.1,490.4 1476.8,480.1 1472.9,472.2C1468.9,464.4 1460.9,458.5 1454.2,451.1C1447.4,443.8 1439.6,433.1 1432.4,428.3C1425.1,423.5 1416.7,422.1 1410.6,422.3C1404.4,422.5 1397.8,425.9 1395.6,429.5C1393.4,433.1 1393.7,439.6 1397.5,443.8C1401.2,447.9 1409.5,454.0 1418.0,454.4C1426.6,454.8 1438.3,447.8 1448.6,446.0C1458.9,444.2 1471.4,444.6 1479.8,443.8C1488.3,442.9 1496.0,440.1 1499.0,440.7C1502.0,441.3 1500.3,443.3 1497.8,447.4C1495.3,451.5 1489.2,460.4 1484.1,465.2C1479.0,470.0 1472.2,477.4 1467.3,476.0C1462.3,474.7 1455.5,462.7 1454.2,457.1C1452.8,451.6 1455.2,448.4 1459.2,442.6C1463.1,436.8 1470.2,431.1 1477.9,422.3C1485.5,413.5 1495.9,399.4 1505.3,389.5C1514.6,379.6 1526.2,368.7 1533.9,362.9C1541.6,357.1 1549.8,352.9 1551.4,354.7C1553.0,356.5 1550.4,363.3 1543.5,373.7C1536.7,384.1 1515.8,409.9 1510.2,417.2" fill="none" stroke="#FF0000" stroke-width="7.5" stroke-linejoin="round"/>
<path d="M1340.8,483.7L1352.0,494.9L1340.8,506.1L1329.6,494.9Z" fill="#FF0000" stroke="#300000" stroke-width="1"/>
<path d="M1350.8,470.5L1362.0,481.7L1350.8,492.9L1339.6,481.7Z" fill="#FF0000" stroke="#300000" stroke-width="1"/>
<path d="M1363.2,477.7L1374.4,488.9L1363.2,500.1L1352.0,488.9Z" fill="#FF0000" stroke="#300000" stroke-width="1"/>
<path d="M1388.1,491.9L1399.3,503.1L1388.1,514.3L1376.9,503.1Z" fill="#FF0000" stroke="#300000" stroke-width="1"/>
<path d="M1410.6,509.8L1421.8,521.0L1410.6,532.2L1399.4,521.0Z" fill="#FF0000" stroke="#300000" stroke-width="1"/>
<path d="M1435.5,524.0L1446.7,535.2L1435.5,546.4L1424.3,535.2Z" fill="#FF0000" stroke="#300000" stroke-width="1"/>
<path d="M1471.6,508.6L1482.8,519.8L1471.6,531.0L1460.4,519.8Z" fill="#FF0000" stroke="#300000" stroke-width="1"/>
<path d="M1477.9,487.1L1489.1,498.3L1477.9,509.5L1466.7,498.3Z" fill="#FF0000" stroke="#300000" stroke-width="1"/>
<path d="M1472.9,461.0L1484.1,472.2L1472.9,483.4L1461.7,472.2Z" fill="#FF0000" stroke="#300000" stroke-width="1"/>
<path d="M1454.2,439.9L1465.4,451.1L1454.2,462.3L1443.0,451.1Z" fill="#FF0000" stroke="#300000" stroke-width="1"/>
<path d="M1432.4,417.1L1443.6,428.3L1432.4,439.5L1421.2,428.3Z" fill="#FF0000" stroke="#300000" stroke-width="1"/>
<path d="M1410.6,411.1L1421.8,422.3L1410.6,433.5L1399.4,422.3Z" fill="#FF0000" stroke="#300000" stroke-width="1"/>
<path d="M1395.6,418.3L1406.8,429.5L1395.6,440.7L1384.4,429.5Z" fill="#FF0000" stroke="#300000" stroke-width="1"/>
<path d="M1397.5,432.6L1408.7,443.8L1397.5,455.0L1386.3,443.8Z" fill="#FF0000" stroke="#300000" stroke-width="1"/>
<path d="M1418.0,443.2L1429.2,454.4L1418.0,465.6L1406.8,454.4Z" fill="#FF0000" stroke="#300000" stroke-width="1"/>
<path d="M1448.6,434.8L1459.8,446.0L1448.6,457.2L1437.4,446.0Z" fill="#FF0000" stroke="#300000" stroke-width="1"/>
<path d="M1479.8,432.6L1491.0,443.8L1479.8,455.0L1468.6,443.8Z" fill="#FF0000" stroke="#300000" stroke-width="1"/>
<path d="M1497.8,436.2L1509.0,447.4L1497.8,458.6L1486.6,447.4Z" fill="#FF0000" stroke="#300000" stroke-width="1"/>
<path d="M1484.1,454.0L1495.3,465.2L1484.1,476.4L1472.9,465.2Z" fill="#FF0000" stroke="#300000" stroke-width="1"/>
<path d="M1467.3,464.8L1478.5,476.0L1467.3,487.2L1456.1,476.0Z" fill="#FF0000" stroke="#300000" stroke-width="1"/>
<path d="M1454.2,445.9L1465.4,457.1L1454.2,468.3L1443.0,457.1Z" fill="#FF0000" stroke="#300000" stroke-width="1"/>
<path d="M1459.2,431.4L1470.4,442.6L1459.2,453.8L1448.0,442.6Z" fill="#FF0000" stroke="#300000" stroke-width="1"/>
<path d="M1477.9,411.1L1489.1,422.3L1477.9,433.5L1466.7,422.3Z" fill="#FF0000" stroke="#300000" stroke-width="1"/>
<path d="M1505.3,378.3L1516.5,389.5L1505.3,400.7L1494.1,389.5Z" fill="#FF0000" stroke="#300000" stroke-width="1"/>
<path d="M1533.9,351.7L1545.1,362.9L1533.9,374.1L1522.7,362.9Z" fill="#FF0000" stroke="#300000" stroke-width="1"/>
<path d="M1551.4,343.5L1562.6,354.7L1551.4,365.9L1540.2,354.7Z" fill="#FF0000" stroke="#300000" stroke-width="1"/>
<path d="M1543.5,362.5L1554.7,373.7L1543.5,384.9L1532.3,373.7Z" fill="#FF0000" stroke="#300000" stroke-width="1"/>
<path d="M1510.2,406.0L1521.4,417.2L1510.2,428.4L1499.0,417.2Z" fill="#FF0000" stroke="#300000" stroke-width="1"/>
<rect x="1441.4" y="469.8" width="23.0" height="23.0" fill="#fff" stroke="#333" stroke-width="1"/>
<path d="M1323.3,593.9L1334.3,604.9L1323.3,615.9L1312.3,604.9Z" fill="#fff" stroke="#222" stroke-width="1"/>
<path d="M1151.4,730.7L1162.4,741.7L1151.4,752.7L1140.4,741.7Z" fill="#fff" stroke="#222" stroke-width="1"/>
<path d="M1104.1,705.6L1115.1,716.6L1104.1,727.6L1093.1,716.6Z" fill="#fff" stroke="#222" stroke-width="1"/>
<path d="M1121.5,706.7L1132.5,717.7L1121.5,728.7L1110.5,717.7Z" fill="#fff" stroke="#222" stroke-width="1"/>
<path d="M1380.7,454.6L1391.7,465.6L1380.7,476.6L1369.7,465.6Z" fill="#E8853D" stroke="#5a2a00" stroke-width="1"/>
<rect x="1447.7" y="521.3" width="23.0" height="23.0" fill="#FF0000" stroke="#300000" stroke-width="1"/>
<rect x="1487.5" y="429.2" width="23.0" height="23.0" fill="#FF0000" stroke="#300000" stroke-width="1"/>
<g clip-path="url(#clip2)">
<rect x="1022.4" y="214.5" width="528.8" height="608.7" fill="none" stroke="#1a1aff" stroke-width="3.6"/>
<line x1="964.5" y1="837.3" x2="1462.9" y2="150.8" stroke="#0000FF" stroke-width="5.5"/>
</g>
<path d="M1188.8,288.1H1363.2V528.4H1188.8Z" fill="none" stroke="#33CCCC" stroke-width="4.5" stroke-dasharray="36.5 15.2" stroke-dashoffset="0"/>
<rect x="1185.3" y="284.6" width="7" height="7" fill="#33CCCC" stroke="#1a4d4d" stroke-width="1"/>
<rect x="1359.7" y="284.6" width="7" height="7" fill="#33CCCC" stroke="#1a4d4d" stroke-width="1"/>
<rect x="1359.7" y="524.9" width="7" height="7" fill="#33CCCC" stroke="#1a4d4d" stroke-width="1"/>
<rect x="1185.3" y="524.9" width="7" height="7" fill="#33CCCC" stroke="#1a4d4d" stroke-width="1"/>
<circle cx="1276.0" cy="408.2" r="13.5" fill="#00F0F0" stroke="#000" stroke-width="1"/>
<path d="M1489.7,375.1L1524.2,347.8" fill="none" stroke="#FF0000" stroke-width="4.6"/><path d="M1513.9,365.5L1524.2,347.8L1504.6,353.7" fill="none" stroke="#FF0000" stroke-width="4.6" stroke-linejoin="miter"/>
<path d="M1558.7,387.0L1521.8,422.7" fill="none" stroke="#FF0000" stroke-width="4.6"/><path d="M1530.3,404.0L1521.8,422.7L1540.7,414.8" fill="none" stroke="#FF0000" stroke-width="4.6" stroke-linejoin="miter"/>
<path d="M1374.4,415.5L1368.5,444.1" fill="none" stroke="#FF0000" stroke-width="4.6"/><path d="M1366.3,431.3L1368.5,444.1L1375.6,433.2" fill="none" stroke="#FF0000" stroke-width="4.6" stroke-linejoin="miter"/>
<path d="M1368.5,509.4L1399.4,538.0" fill="none" stroke="#FF0000" stroke-width="4.6"/><path d="M1380.3,530.6L1399.4,538.0L1390.5,519.5" fill="none" stroke="#FF0000" stroke-width="4.6" stroke-linejoin="miter"/>
<path d="M1482.6,540.3L1498.0,509.4" fill="none" stroke="#FF0000" stroke-width="4.6"/><path d="M1496.2,529.8L1498.0,509.4L1482.8,523.1" fill="none" stroke="#FF0000" stroke-width="4.6" stroke-linejoin="miter"/>
<path d="M1455.2,501.1L1430.3,523.7" fill="none" stroke="#FF0000" stroke-width="4.5" stroke-dasharray="21 8"/><path d="M1437.8,508.5L1430.3,523.7L1446.2,517.7" fill="none" stroke="#FF0000" stroke-width="4.5" stroke-linejoin="miter"/>
<path d="M1144.9,674.7L1260.9,555.5" fill="none" stroke="#FF0000" stroke-width="4.5" stroke-dasharray="21 8"/><path d="M1254.3,571.2L1260.9,555.5L1245.4,562.5" fill="none" stroke="#FF0000" stroke-width="4.5" stroke-linejoin="miter"/>
<path d="M1383.3,570.0L1297.9,647.3" fill="none" stroke="#FF0000" stroke-width="4.5" stroke-dasharray="21 8"/><path d="M1305.4,632.1L1297.9,647.3L1313.8,641.3" fill="none" stroke="#FF0000" stroke-width="4.5" stroke-linejoin="miter"/>
<path d="M1273.8,671.5L1190.0,734.3" fill="none" stroke="#FF0000" stroke-width="4.5" stroke-dasharray="21 8"/><path d="M1198.9,719.8L1190.0,734.3L1206.4,729.8" fill="none" stroke="#FF0000" stroke-width="4.5" stroke-linejoin="miter"/>
<path d="M1117.6,763.3L1088.6,737.5" fill="none" stroke="#FF0000" stroke-width="4.5" stroke-dasharray="21 8"/><path d="M1104.6,743.4L1088.6,737.5L1096.3,752.7" fill="none" stroke="#FF0000" stroke-width="4.5" stroke-linejoin="miter"/>
<path d="M1551.4,346.5L1559.6,354.7L1551.4,362.9L1543.2,354.7Z" fill="#0000FF" stroke="#000060" stroke-width="1"/>
<path d="M1438.0,206.3L1446.2,214.5L1438.0,222.7L1429.8,214.5Z" fill="#0000FF" stroke="#000060" stroke-width="1"/>
<path d="M1022.4,711.0L1030.6,719.2L1022.4,727.4L1014.2,719.2Z" fill="#0000FF" stroke="#000060" stroke-width="1"/>
<path d="M1037.5,815.0L1045.7,823.2L1037.5,831.4L1029.3,823.2Z" fill="#0000FF" stroke="#000060" stroke-width="1"/>
<rect x="967.6" y="153.5" width="111.8" height="80.0" fill="#fff" stroke="#000" stroke-width="1.7"/><text x="1023.5" y="187.7" font-size="28.2" font-weight="bold" font-style="italic" text-anchor="middle" xml:space="preserve"><tspan fill="#000">Cold</tspan></text><text x="1023.5" y="219.3" font-size="28.2" font-weight="bold" font-style="italic" text-anchor="middle" xml:space="preserve"><tspan fill="#000">Sunny</tspan></text><rect x="1479.5" y="153.8" width="101.6" height="81.0" fill="#fff" stroke="#000" stroke-width="1.7"/><text x="1530.3" y="188.5" font-size="28.2" font-weight="bold" font-style="italic" text-anchor="middle" xml:space="preserve"><tspan fill="#000">Hot</tspan></text><text x="1530.3" y="220.1" font-size="28.2" font-weight="bold" font-style="italic" text-anchor="middle" xml:space="preserve"><tspan fill="#000">Sunny</tspan></text><rect x="968.3" y="844.7" width="110.0" height="74.1" fill="#fff" stroke="#000" stroke-width="1.7"/><text x="1023.3" y="876.0" font-size="28.2" font-weight="bold" font-style="italic" text-anchor="middle" xml:space="preserve"><tspan fill="#000">Cold</tspan></text><text x="1023.3" y="907.6" font-size="28.2" font-weight="bold" font-style="italic" text-anchor="middle" xml:space="preserve"><tspan fill="#000">Cloudy</tspan></text><rect x="1463.0" y="844.7" width="119.8" height="73.6" fill="#fff" stroke="#000" stroke-width="1.7"/><text x="1522.9" y="875.7" font-size="28.2" font-weight="bold" font-style="italic" text-anchor="middle" xml:space="preserve"><tspan fill="#000">Hot</tspan></text><text x="1522.9" y="907.3" font-size="28.2" font-weight="bold" font-style="italic" text-anchor="middle" xml:space="preserve"><tspan fill="#000">Cloudy</tspan></text><path d="M1407.7,208.0L1432.6,214.5L1407.7,222.8Z" fill="#0000FF"/><rect x="1293.1" y="180.0" width="114.6" height="49.2" fill="#0000FF"/><text x="1350.4" y="214.5" font-size="28" font-weight="bold" font-style="italic" fill="#fff" text-anchor="middle" >Oct-02</text><path d="M1536.1,277.2L1551.3,349.8L1566.5,277.2Z" fill="#0000FF"/><rect x="1467.1" y="239.4" width="119.2" height="37.8" fill="#0000FF"/><text x="1526.7" y="268.2" font-size="28" font-weight="bold" font-style="italic" fill="#fff" text-anchor="middle" >Oct-19</text><path d="M1348.3,356.6L1464.7,356.6L1464.7,382.2L1504.0,416.5L1464.7,394.1L1464.7,402.4L1348.3,402.4Z" fill="#000" stroke="#000" stroke-width="3" transform="translate(1.2,1.2)"/><path d="M1348.3,356.6L1464.7,356.6L1464.7,382.2L1504.0,416.5L1464.7,394.1L1464.7,402.4L1348.3,402.4Z" fill="#FF0000" stroke="#000" stroke-width="3" stroke-linejoin="miter"/><text x="1406.5" y="389.4" font-size="28" font-weight="bold" font-style="normal" fill="#fff" text-anchor="middle" >Dec-19</text><path d="M1212.6,431.5L1336.6,431.5L1336.6,458.3L1374.0,464.6L1336.6,468.6L1336.6,477.6L1212.6,477.6Z" fill="#000" stroke="#000" stroke-width="3" transform="translate(1.2,1.2)"/><path d="M1212.6,431.5L1336.6,431.5L1336.6,458.3L1374.0,464.6L1336.6,468.6L1336.6,477.6L1212.6,477.6Z" fill="#E8853D" stroke="#000" stroke-width="3" stroke-linejoin="miter"/><text x="1274.6" y="464.5" font-size="28" font-weight="bold" font-style="normal" fill="#fff" text-anchor="middle" >Jun-20</text><path d="M1186.8,487.2L1301.8,487.2L1301.8,494.3L1336.0,497.6L1301.8,507.2L1301.8,536.8L1186.8,536.8Z" fill="#000" stroke="#000" stroke-width="3" transform="translate(1.2,1.2)"/><path d="M1186.8,487.2L1301.8,487.2L1301.8,494.3L1336.0,497.6L1301.8,507.2L1301.8,536.8L1186.8,536.8Z" fill="#FF0000" stroke="#000" stroke-width="3" stroke-linejoin="miter"/><text x="1244.3" y="521.9" font-size="28" font-weight="bold" font-style="normal" fill="#fff" text-anchor="middle" >Jul-17</text><path d="M1012.0,691.4L1022.5,716.0L1034.0,691.4Z" fill="#0000FF"/><rect x="986.9" y="643.6" width="113.1" height="47.8" fill="#0000FF"/><text x="1043.5" y="677.4" font-size="28" font-weight="bold" font-style="italic" fill="#fff" text-anchor="middle" >Jan-12</text><path d="M1075.3,818.3L1042.0,823.9L1075.3,833.7Z" fill="#0000FF"/><rect x="1075.3" y="792.3" width="116.7" height="47.7" fill="#0000FF"/><text x="1133.7" y="826.1" font-size="28" font-weight="bold" font-style="italic" fill="#fff" text-anchor="middle" >Nov-10</text></g>
<g id="p3"><rect x="8.3" y="1088.6" width="786.3000000000001" height="1037.9" fill="#fff" stroke="#4a4a4a" stroke-width="1.2"/>
<text x="413.6" y="1135.6" font-size="32.7" font-weight="normal" font-style="normal" fill="#000" text-anchor="middle" >Smoothed Monthly Max Temp and Dew</text>
<text x="413.6" y="1174.3" font-size="32.7" font-weight="normal" font-style="normal" fill="#000" text-anchor="middle" >Point Anomalies, Manilla NSW</text>
<text x="413.6" y="1206.7" font-size="28.2" font-weight="bold" font-style="normal" fill="#000" text-anchor="middle" >Jul-17 to Jun-20</text>
<path d="M136.4,1237.8V2014.1M198.3,1237.8V2014.1M260.1,1237.8V2014.1M322.0,1237.8V2014.1M383.8,1237.8V2014.1M445.7,1237.8V2014.1M507.6,1237.8V2014.1M569.4,1237.8V2014.1M631.3,1237.8V2014.1M693.1,1237.8V2014.1M755.0,1237.8V2014.1M136.4,1237.8H755M136.4,1293.2H755M136.4,1348.7H755M136.4,1404.1H755M136.4,1459.6H755M136.4,1515.0H755M136.4,1570.5H755M136.4,1625.9H755M136.4,1681.4H755M136.4,1736.8H755M136.4,1792.3H755M136.4,1847.8H755M136.4,1903.2H755M136.4,1958.7H755M136.4,2014.1H755" stroke="#1a1a1a" stroke-width="1.1" fill="none"/>
<rect x="136.4" y="1237.8" width="618.6" height="776.3" fill="none" stroke="#808080" stroke-width="1.6"/>
<path d="M136.4,1237.8V2014.1M136.4,2014.1H755M136.4,2014.1v8.5M148.8,2014.1v-5M161.1,2014.1v-5M173.5,2014.1v-5M185.9,2014.1v-5M198.3,2014.1v8.5M210.6,2014.1v-5M223.0,2014.1v-5M235.4,2014.1v-5M247.7,2014.1v-5M260.1,2014.1v8.5M272.5,2014.1v-5M284.9,2014.1v-5M297.2,2014.1v-5M309.6,2014.1v-5M322.0,2014.1v8.5M334.4,2014.1v-5M346.7,2014.1v-5M359.1,2014.1v-5M371.5,2014.1v-5M383.8,2014.1v8.5M396.2,2014.1v-5M408.6,2014.1v-5M421.0,2014.1v-5M433.3,2014.1v-5M445.7,2014.1v8.5M458.1,2014.1v-5M470.4,2014.1v-5M482.8,2014.1v-5M495.2,2014.1v-5M507.6,2014.1v8.5M519.9,2014.1v-5M532.3,2014.1v-5M544.7,2014.1v-5M557.0,2014.1v-5M569.4,2014.1v8.5M581.8,2014.1v-5M594.2,2014.1v-5M606.5,2014.1v-5M618.9,2014.1v-5M631.3,2014.1v8.5M643.7,2014.1v-5M656.0,2014.1v-5M668.4,2014.1v-5M680.8,2014.1v-5M693.1,2014.1v8.5M705.5,2014.1v-5M717.9,2014.1v-5M730.3,2014.1v-5M742.6,2014.1v-5M755.0,2014.1v8.5M136.4,1237.8h-8.5M136.4,1293.2h-8.5M136.4,1348.7h-8.5M136.4,1404.1h-8.5M136.4,1459.6h-8.5M136.4,1515.0h-8.5M136.4,1570.5h-8.5M136.4,1625.9h-8.5M136.4,1681.4h-8.5M136.4,1736.8h-8.5M136.4,1792.3h-8.5M136.4,1847.8h-8.5M136.4,1903.2h-8.5M136.4,1958.7h-8.5M136.4,2014.1h-8.5M136.4,1248.9h5M136.4,1260.0h5M136.4,1271.1h5M136.4,1282.2h5M136.4,1304.3h5M136.4,1315.4h5M136.4,1326.5h5M136.4,1337.6h5M136.4,1359.8h5M136.4,1370.9h5M136.4,1382.0h5M136.4,1393.1h5M136.4,1415.2h5M136.4,1426.3h5M136.4,1437.4h5M136.4,1448.5h5M136.4,1470.7h5M136.4,1481.8h5M136.4,1492.9h5M136.4,1504.0h5M136.4,1526.1h5M136.4,1537.2h5M136.4,1548.3h5M136.4,1559.4h5M136.4,1581.6h5M136.4,1592.7h5M136.4,1603.8h5M136.4,1614.9h5M136.4,1637.0h5M136.4,1648.1h5M136.4,1659.2h5M136.4,1670.3h5M136.4,1692.5h5M136.4,1703.6h5M136.4,1714.7h5M136.4,1725.8h5M136.4,1747.9h5M136.4,1759.0h5M136.4,1770.1h5M136.4,1781.2h5M136.4,1803.4h5M136.4,1814.5h5M136.4,1825.6h5M136.4,1836.7h5M136.4,1858.8h5M136.4,1869.9h5M136.4,1881.0h5M136.4,1892.1h5M136.4,1914.3h5M136.4,1925.4h5M136.4,1936.5h5M136.4,1947.6h5M136.4,1969.7h5M136.4,1980.8h5M136.4,1991.9h5M136.4,2003.0h5" stroke="#000" stroke-width="1.2" fill="none"/>
<text transform="translate(136.4,2054.7) scale(0.82,1)" font-size="25" fill="#000" text-anchor="middle">-2.5°</text>
<text transform="translate(198.3,2054.7) scale(0.82,1)" font-size="25" fill="#000" text-anchor="middle">-2.0°</text>
<text transform="translate(260.1,2054.7) scale(0.82,1)" font-size="25" fill="#000" text-anchor="middle">-1.5°</text>
<text transform="translate(322.0,2054.7) scale(0.82,1)" font-size="25" fill="#000" text-anchor="middle">-1.0°</text>
<text transform="translate(383.8,2054.7) scale(0.82,1)" font-size="25" fill="#000" text-anchor="middle">-0.5°</text>
<text transform="translate(445.7,2054.7) scale(0.82,1)" font-size="25" fill="#000" text-anchor="middle">0.0°</text>
<text transform="translate(507.6,2054.7) scale(0.82,1)" font-size="25" fill="#000" text-anchor="middle">0.5°</text>
<text transform="translate(569.4,2054.7) scale(0.82,1)" font-size="25" fill="#000" text-anchor="middle">1.0°</text>
<text transform="translate(631.3,2054.7) scale(0.82,1)" font-size="25" fill="#000" text-anchor="middle">1.5°</text>
<text transform="translate(693.1,2054.7) scale(0.82,1)" font-size="25" fill="#000" text-anchor="middle">2.0°</text>
<text transform="translate(755.0,2054.7) scale(0.82,1)" font-size="25" fill="#000" text-anchor="middle">2.5°</text>
<text transform="translate(112.9,1245.6) scale(1.08,1)" font-size="23.5" fill="#000" text-anchor="end">-5.0°</text>
<text transform="translate(112.9,1301.0) scale(1.08,1)" font-size="23.5" fill="#000" text-anchor="end">-4.5°</text>
<text transform="translate(112.9,1356.5) scale(1.08,1)" font-size="23.5" fill="#000" text-anchor="end">-4.0°</text>
<text transform="translate(112.9,1411.9) scale(1.08,1)" font-size="23.5" fill="#000" text-anchor="end">-3.5°</text>
<text transform="translate(112.9,1467.4) scale(1.08,1)" font-size="23.5" fill="#000" text-anchor="end">-3.0°</text>
<text transform="translate(112.9,1522.8) scale(1.08,1)" font-size="23.5" fill="#000" text-anchor="end">-2.5°</text>
<text transform="translate(112.9,1578.3) scale(1.08,1)" font-size="23.5" fill="#000" text-anchor="end">-2.0°</text>
<text transform="translate(112.9,1633.7) scale(1.08,1)" font-size="23.5" fill="#000" text-anchor="end">-1.5°</text>
<text transform="translate(112.9,1689.2) scale(1.08,1)" font-size="23.5" fill="#000" text-anchor="end">-1.0°</text>
<text transform="translate(112.9,1744.6) scale(1.08,1)" font-size="23.5" fill="#000" text-anchor="end">-0.5°</text>
<text transform="translate(112.9,1800.1) scale(1.08,1)" font-size="23.5" fill="#000" text-anchor="end">0.0°</text>
<text transform="translate(112.9,1855.5) scale(1.08,1)" font-size="23.5" fill="#000" text-anchor="end">0.5°</text>
<text transform="translate(112.9,1911.0) scale(1.08,1)" font-size="23.5" fill="#000" text-anchor="end">1.0°</text>
<text transform="translate(112.9,1966.5) scale(1.08,1)" font-size="23.5" fill="#000" text-anchor="end">1.5°</text>
<text transform="translate(112.9,2021.9) scale(1.08,1)" font-size="23.5" fill="#000" text-anchor="end">2.0°</text>
<text transform="translate(446.0,2102.5) scale(1.0,1)" font-size="28" fill="#000" text-anchor="middle">Daily Max Temp Anomaly</text>
<text transform="translate(54,1617.5) rotate(-90) scale(0.787,1)" font-size="34" text-anchor="middle">&lt;&lt; Dew Point Anomaly</text>
<clipPath id="clip3"><rect x="136.4" y="1236.8" width="619.6" height="778.3"/></clipPath>
<text transform="translate(187.9,1373.4) rotate(-52)" font-size="37" fill="#0000FF" text-anchor="middle" dominant-baseline="central">Glacial</text><text transform="translate(689,1849.4) rotate(-52.8)" font-size="37" fill="#0000FF" text-anchor="middle" dominant-baseline="central">Interglacial</text><text transform="translate(364.5,1504) rotate(-41.9)" font-size="36" fill="#00A651" text-anchor="middle" dominant-baseline="central">y = -x-3</text>
<path d="M674.2,1584.0C672.1,1590.9 666.3,1611.8 661.6,1625.2C656.9,1638.6 650.9,1655.2 646.1,1664.3C641.4,1673.5 637.3,1675.3 633.0,1680.0C628.7,1684.7 626.5,1685.5 620.4,1692.5C614.3,1699.4 605.7,1710.7 596.5,1721.7C587.3,1732.6 576.1,1746.9 565.2,1758.3C554.3,1769.6 541.3,1780.9 531.3,1789.5C521.3,1798.2 511.6,1805.9 505.2,1810.3C498.8,1814.6 499.5,1812.4 493.0,1815.5C486.4,1818.5 474.9,1825.1 466.1,1828.6C457.3,1832.1 452.6,1833.4 440.0,1836.4C427.5,1839.5 407.7,1843.7 390.8,1846.8C373.9,1849.8 350.4,1853.6 338.6,1854.7C326.7,1855.8 324.5,1854.3 319.8,1853.4C315.0,1852.5 313.2,1851.2 309.9,1849.4C306.5,1847.7 303.4,1846.5 299.5,1843.0C295.6,1839.5 290.0,1834.0 286.5,1828.6C283.0,1823.1 280.7,1816.6 278.6,1810.3C276.5,1804.0 274.9,1796.9 273.9,1790.8C272.8,1784.7 271.3,1779.2 272.1,1773.8C272.9,1768.4 275.3,1762.4 278.6,1758.3C281.8,1754.1 286.0,1751.2 291.7,1749.0C297.3,1746.8 299.2,1746.9 312.5,1745.1C325.8,1743.2 345.4,1741.0 371.5,1738.0C397.6,1734.9 439.4,1729.7 469.0,1726.9C498.5,1724.0 535.7,1721.9 549.0,1720.9" fill="none" stroke="#FF0000" stroke-width="4.5" stroke-dasharray="11 7"/>
<path d="M510.0,1453.7C511.7,1446.0 516.2,1418.3 519.9,1407.5C523.6,1396.6 526.1,1390.9 532.3,1388.6C538.5,1386.3 549.2,1390.4 557.0,1393.7C564.9,1397.1 571.5,1403.5 579.3,1408.6C587.2,1413.7 596.0,1420.4 604.1,1424.3C612.1,1428.3 621.6,1432.3 627.6,1432.1C633.5,1431.9 636.8,1426.7 639.9,1423.0C643.0,1419.3 645.9,1416.5 646.1,1409.9C646.3,1403.3 645.1,1395.0 641.2,1383.3C637.3,1371.6 629.3,1352.8 622.6,1339.5C615.9,1326.2 608.2,1312.6 601.0,1303.2C593.8,1293.9 585.4,1286.1 579.3,1283.5C573.2,1280.8 566.6,1281.7 564.5,1287.4C562.3,1293.1 562.6,1306.1 566.3,1317.6C570.0,1329.2 578.3,1343.9 586.7,1356.5C595.2,1369.0 606.8,1381.7 617.1,1393.1C627.3,1404.4 639.8,1415.2 648.1,1424.3C656.5,1433.4 664.2,1440.8 667.2,1447.7C670.1,1454.7 668.4,1460.9 665.9,1465.9C663.4,1470.9 657.4,1475.3 652.3,1477.7C647.3,1480.1 640.6,1481.4 635.6,1480.3C630.7,1479.3 624.0,1476.0 622.6,1471.2C621.3,1466.5 623.7,1459.3 627.6,1451.8C631.5,1444.4 638.5,1433.8 646.1,1426.3C653.8,1418.9 664.1,1410.3 673.3,1407.3C682.6,1404.2 694.2,1402.7 701.8,1408.0C709.4,1413.4 717.5,1423.7 719.1,1439.4C720.7,1455.2 718.1,1478.4 711.3,1502.5C704.5,1526.7 683.8,1570.6 678.3,1584.3" fill="none" stroke="#FF0000" stroke-width="7.5" stroke-linejoin="round"/>
<path d="M510.0,1442.5L521.2,1453.7L510.0,1464.9L498.8,1453.7Z" fill="#FF0000" stroke="#300000" stroke-width="1"/>
<path d="M519.9,1396.3L531.1,1407.5L519.9,1418.7L508.7,1407.5Z" fill="#FF0000" stroke="#300000" stroke-width="1"/>
<path d="M532.3,1377.4L543.5,1388.6L532.3,1399.8L521.1,1388.6Z" fill="#FF0000" stroke="#300000" stroke-width="1"/>
<path d="M557.0,1382.5L568.2,1393.7L557.0,1404.9L545.8,1393.7Z" fill="#FF0000" stroke="#300000" stroke-width="1"/>
<path d="M579.3,1397.4L590.5,1408.6L579.3,1419.8L568.1,1408.6Z" fill="#FF0000" stroke="#300000" stroke-width="1"/>
<path d="M604.1,1413.1L615.3,1424.3L604.1,1435.5L592.9,1424.3Z" fill="#FF0000" stroke="#300000" stroke-width="1"/>
<path d="M639.9,1411.8L651.1,1423.0L639.9,1434.2L628.7,1423.0Z" fill="#FF0000" stroke="#300000" stroke-width="1"/>
<path d="M646.1,1398.7L657.3,1409.9L646.1,1421.1L634.9,1409.9Z" fill="#FF0000" stroke="#300000" stroke-width="1"/>
<path d="M641.2,1372.1L652.4,1383.3L641.2,1394.5L630.0,1383.3Z" fill="#FF0000" stroke="#300000" stroke-width="1"/>
<path d="M622.6,1328.3L633.8,1339.5L622.6,1350.7L611.4,1339.5Z" fill="#FF0000" stroke="#300000" stroke-width="1"/>
<path d="M601.0,1292.0L612.2,1303.2L601.0,1314.4L589.8,1303.2Z" fill="#FF0000" stroke="#300000" stroke-width="1"/>
<path d="M579.3,1272.3L590.5,1283.5L579.3,1294.7L568.1,1283.5Z" fill="#FF0000" stroke="#300000" stroke-width="1"/>
<path d="M564.5,1276.2L575.7,1287.4L564.5,1298.6L553.3,1287.4Z" fill="#FF0000" stroke="#300000" stroke-width="1"/>
<path d="M566.3,1306.4L577.5,1317.6L566.3,1328.8L555.1,1317.6Z" fill="#FF0000" stroke="#300000" stroke-width="1"/>
<path d="M586.7,1345.3L597.9,1356.5L586.7,1367.7L575.5,1356.5Z" fill="#FF0000" stroke="#300000" stroke-width="1"/>
<path d="M617.1,1381.9L628.3,1393.1L617.1,1404.3L605.9,1393.1Z" fill="#FF0000" stroke="#300000" stroke-width="1"/>
<path d="M648.1,1413.1L659.3,1424.3L648.1,1435.5L636.9,1424.3Z" fill="#FF0000" stroke="#300000" stroke-width="1"/>
<path d="M665.9,1454.7L677.1,1465.9L665.9,1477.1L654.7,1465.9Z" fill="#FF0000" stroke="#300000" stroke-width="1"/>
<path d="M652.3,1466.5L663.5,1477.7L652.3,1488.9L641.1,1477.7Z" fill="#FF0000" stroke="#300000" stroke-width="1"/>
<path d="M635.6,1469.1L646.8,1480.3L635.6,1491.5L624.4,1480.3Z" fill="#FF0000" stroke="#300000" stroke-width="1"/>
<path d="M622.6,1460.0L633.8,1471.2L622.6,1482.4L611.4,1471.2Z" fill="#FF0000" stroke="#300000" stroke-width="1"/>
<path d="M627.6,1440.6L638.8,1451.8L627.6,1463.0L616.4,1451.8Z" fill="#FF0000" stroke="#300000" stroke-width="1"/>
<path d="M646.1,1415.1L657.3,1426.3L646.1,1437.5L634.9,1426.3Z" fill="#FF0000" stroke="#300000" stroke-width="1"/>
<path d="M673.3,1396.1L684.5,1407.3L673.3,1418.5L662.1,1407.3Z" fill="#FF0000" stroke="#300000" stroke-width="1"/>
<path d="M701.8,1396.8L713.0,1408.0L701.8,1419.2L690.6,1408.0Z" fill="#FF0000" stroke="#300000" stroke-width="1"/>
<path d="M719.1,1428.2L730.3,1439.4L719.1,1450.6L707.9,1439.4Z" fill="#FF0000" stroke="#300000" stroke-width="1"/>
<path d="M711.3,1491.3L722.5,1502.5L711.3,1513.7L700.1,1502.5Z" fill="#FF0000" stroke="#300000" stroke-width="1"/>
<path d="M678.3,1573.1L689.5,1584.3L678.3,1595.5L667.1,1584.3Z" fill="#FF0000" stroke="#300000" stroke-width="1"/>
<rect x="609.9" y="1681.0" width="23.0" height="23.0" fill="#fff" stroke="#333" stroke-width="1"/>
<path d="M492.7,1804.5L503.7,1815.5L492.7,1826.5L481.7,1815.5Z" fill="#fff" stroke="#222" stroke-width="1"/>
<path d="M322.0,1842.4L333.0,1853.4L322.0,1864.4L311.0,1853.4Z" fill="#fff" stroke="#222" stroke-width="1"/>
<path d="M275.0,1779.8L286.0,1790.8L275.0,1801.8L264.0,1790.8Z" fill="#fff" stroke="#222" stroke-width="1"/>
<path d="M292.3,1738.0L303.3,1749.0L292.3,1760.0L281.3,1749.0Z" fill="#fff" stroke="#222" stroke-width="1"/>
<path d="M549.6,1709.9L560.6,1720.9L549.6,1731.9L538.6,1720.9Z" fill="#E8853D" stroke="#5a2a00" stroke-width="1"/>
<rect x="616.1" y="1420.6" width="23.0" height="23.0" fill="#FF0000" stroke="#300000" stroke-width="1"/>
<rect x="655.7" y="1436.2" width="23.0" height="23.0" fill="#FF0000" stroke="#300000" stroke-width="1"/>
<g clip-path="url(#clip3)">
<rect x="194.4" y="1264.4" width="525.9" height="713.4" fill="none" stroke="#1a1aff" stroke-width="3.6"/>
<line x1="136.4" y1="1736.8" x2="693.1" y2="1237.8" stroke="#00A651" stroke-width="3.2"/>
<line x1="198.3" y1="2014.1" x2="755.0" y2="1515.0" stroke="#0000FF" stroke-width="5.5"/>
</g>
<path d="M359.1,1714.7H532.3V1869.9H359.1Z" fill="none" stroke="#33CCCC" stroke-width="4.5" stroke-dasharray="36.5 15.2" stroke-dashoffset="0"/>
<path d="M351.1,1714.7h16M359.1,1706.7v16" stroke="#8888dd" stroke-width="1.2"/>
<path d="M524.3,1714.7h16M532.3,1706.7v16" stroke="#8888dd" stroke-width="1.2"/>
<path d="M524.3,1869.9h16M532.3,1861.9v16" stroke="#8888dd" stroke-width="1.2"/>
<path d="M351.1,1869.9h16M359.1,1861.9v16" stroke="#8888dd" stroke-width="1.2"/>
<circle cx="445.7" cy="1792.3" r="13.5" fill="#00F0F0" stroke="#000" stroke-width="1"/>
<path d="M490.8,1445.1L501.3,1409.9" fill="none" stroke="#FF0000" stroke-width="4.6"/><path d="M503.0,1430.3L501.3,1409.9L488.6,1426.0" fill="none" stroke="#FF0000" stroke-width="4.6" stroke-linejoin="miter"/>
<path d="M548.2,1415.1L588.6,1438.6" fill="none" stroke="#FF0000" stroke-width="4.6"/><path d="M568.3,1435.5L588.6,1438.6L575.9,1422.5" fill="none" stroke="#FF0000" stroke-width="4.6" stroke-linejoin="miter"/>
<path d="M559.9,1349.9L587.3,1393.0" fill="none" stroke="#FF0000" stroke-width="4.6"/><path d="M570.7,1380.9L587.3,1393.0L583.4,1372.9" fill="none" stroke="#FF0000" stroke-width="4.6" stroke-linejoin="miter"/>
<path d="M635.6,1327.8L609.5,1282.2" fill="none" stroke="#FF0000" stroke-width="4.6"/><path d="M625.5,1295.0L609.5,1282.2L612.5,1302.5" fill="none" stroke="#FF0000" stroke-width="4.6" stroke-linejoin="miter"/>
<path d="M657.7,1387.8L700.8,1389.1" fill="none" stroke="#FF0000" stroke-width="4.6"/><path d="M681.5,1396.0L700.8,1389.1L682.0,1381.0" fill="none" stroke="#FF0000" stroke-width="4.6" stroke-linejoin="miter"/>
<path d="M734.7,1445.1L728.1,1497.3" fill="none" stroke="#FF0000" stroke-width="4.6"/><path d="M723.0,1477.4L728.1,1497.3L737.9,1479.3" fill="none" stroke="#FF0000" stroke-width="4.6" stroke-linejoin="miter"/>
<path d="M685.1,1481.6L653.8,1496.0" fill="none" stroke="#FF0000" stroke-width="4.6"/><path d="M668.0,1481.2L653.8,1496.0L674.3,1494.9" fill="none" stroke="#FF0000" stroke-width="4.6" stroke-linejoin="miter"/>
<path d="M715.1,1531.2L696.8,1579.6" fill="none" stroke="#FF0000" stroke-width="4.6"/><path d="M696.5,1559.1L696.8,1579.6L710.6,1564.4" fill="none" stroke="#FF0000" stroke-width="4.6" stroke-linejoin="miter"/>
<path d="M306.0,1726.4L501.9,1707.2" fill="none" stroke="#FF0000" stroke-width="4.5" stroke-dasharray="17 7.5"/><path d="M486.8,1714.9L501.9,1707.2L485.6,1702.5" fill="none" stroke="#FF0000" stroke-width="4.5" stroke-linejoin="miter"/>
<path d="M257.8,1822.1L244.7,1777.7" fill="none" stroke="#FF0000" stroke-width="4.5" stroke-dasharray="17 7.5"/><path d="M255.2,1791.1L244.7,1777.7L243.2,1794.6" fill="none" stroke="#FF0000" stroke-width="4.5" stroke-linejoin="miter"/>
<path d="M388.1,1863.8L294.3,1870.8" fill="none" stroke="#FF0000" stroke-width="4.5" stroke-dasharray="17 7.5"/><path d="M309.6,1863.4L294.3,1870.8L310.5,1875.8" fill="none" stroke="#FF0000" stroke-width="4.5" stroke-linejoin="miter"/>
<path d="M682.5,1609.5L638.2,1702.1" fill="none" stroke="#FF0000" stroke-width="4.5" stroke-dasharray="17 7.5"/><path d="M639.4,1685.1L638.2,1702.1L650.6,1690.5" fill="none" stroke="#FF0000" stroke-width="4.5" stroke-linejoin="miter"/>
<path d="M560.0,1783.0L471.3,1846.8" fill="none" stroke="#FF0000" stroke-width="4.5" stroke-dasharray="17 7.5"/><path d="M480.5,1832.5L471.3,1846.8L487.8,1842.6" fill="none" stroke="#FF0000" stroke-width="4.5" stroke-linejoin="miter"/>
<path d="M719.1,1431.2L727.3,1439.4L719.1,1447.6L710.9,1439.4Z" fill="#0000FF" stroke="#000060" stroke-width="1"/>
<path d="M609.5,1255.8L617.7,1264.0L609.5,1272.2L601.3,1264.0Z" fill="#0000FF" stroke="#000060" stroke-width="1"/>
<path d="M193.8,1643.1L202.0,1651.3L193.8,1659.5L185.6,1651.3Z" fill="#0000FF" stroke="#000060" stroke-width="1"/>
<path d="M403.4,1969.6L411.6,1977.8L403.4,1986.0L395.2,1977.8Z" fill="#0000FF" stroke="#000060" stroke-width="1"/>
<rect x="139.1" y="1239.9" width="92.6" height="75.6" fill="#fff" stroke="#000" stroke-width="1.7"/><text x="185.4" y="1271.9" font-size="28.2" font-weight="bold" font-style="italic" text-anchor="middle" xml:space="preserve"><tspan fill="#000">Cold</tspan></text><text x="185.4" y="1303.5" font-size="28.2" font-weight="bold" font-style="italic" text-anchor="middle" xml:space="preserve"><tspan fill="#000">Arid</tspan></text><rect x="663.5" y="1240.4" width="87.3" height="77.0" fill="#fff" stroke="#000" stroke-width="1.7"/><text x="707.1" y="1273.1" font-size="28.2" font-weight="bold" font-style="italic" text-anchor="middle" xml:space="preserve"><tspan fill="#000">Hot</tspan></text><text x="707.1" y="1304.7" font-size="28.2" font-weight="bold" font-style="italic" text-anchor="middle" xml:space="preserve"><tspan fill="#000">Arid</tspan></text><rect x="137.2" y="1938.5" width="118.4" height="69.9" fill="#fff" stroke="#000" stroke-width="1.7"/><text x="196.4" y="1967.7" font-size="28.2" font-weight="bold" font-style="italic" text-anchor="middle" xml:space="preserve"><tspan fill="#000">Cold</tspan></text><text x="196.4" y="1999.3" font-size="28.2" font-weight="bold" font-style="italic" text-anchor="middle" xml:space="preserve"><tspan fill="#000">Humid</tspan></text><rect x="642.1" y="1938.5" width="106.0" height="69.9" fill="#fff" stroke="#000" stroke-width="1.7"/><text x="695.1" y="1967.7" font-size="28.2" font-weight="bold" font-style="italic" text-anchor="middle" xml:space="preserve"><tspan fill="#000">Hot</tspan></text><text x="695.1" y="1999.3" font-size="28.2" font-weight="bold" font-style="italic" text-anchor="middle" xml:space="preserve"><tspan fill="#000">Humid</tspan></text><path d="M547.0,1249.6L603.0,1263.9L547.0,1262.6Z" fill="#0000FF"/><rect x="422.6" y="1243.0" width="124.4" height="44.4" fill="#0000FF"/><text x="484.8" y="1275.1" font-size="28" font-weight="bold" font-style="italic" fill="#fff" text-anchor="middle" >Nov-13</text><path d="M536.5,1296.5L557.0,1288.0L536.5,1310.0Z" fill="#FF0000"/><rect x="421.3" y="1293.9" width="115.2" height="42.1" fill="#FF0000"/><text x="478.9" y="1324.9" font-size="28" font-weight="bold" font-style="normal" fill="#fff" text-anchor="middle" >Aug-18</text><path d="M506.5,1375.0L529.0,1387.8L506.5,1389.0Z" fill="#FF0000"/><rect x="390.8" y="1350.5" width="115.7" height="43.8" fill="#FF0000"/><text x="448.6" y="1382.3" font-size="28" font-weight="bold" font-style="normal" fill="#fff" text-anchor="middle" >Sep-17</text><path d="M703.4,1368.2L718.5,1436.0L730.7,1368.2Z" fill="#0000FF"/><rect x="639.5" y="1327.0" width="110.3" height="41.2" fill="#0000FF"/><text x="694.6" y="1357.5" font-size="28" font-weight="bold" font-style="italic" fill="#fff" text-anchor="middle" >Oct-19</text><path d="M416.8,1496.0L485.6,1496.0L507.0,1461.0L513.0,1496.0L532.6,1496.0L532.6,1544.0L416.8,1544.0Z" fill="#000" stroke="#000" stroke-width="3" transform="translate(1.2,1.2)"/><path d="M416.8,1496.0L485.6,1496.0L507.0,1461.0L513.0,1496.0L532.6,1496.0L532.6,1544.0L416.8,1544.0Z" fill="#FF0000" stroke="#000" stroke-width="3" stroke-linejoin="miter"/><text x="474.7" y="1529.9" font-size="28" font-weight="bold" font-style="normal" fill="#fff" text-anchor="middle" >Jul-17</text><path d="M562.6,1507.0L677.3,1507.0L677.3,1550.2L659.0,1550.2L673.5,1582.0L627.7,1550.2L562.6,1550.2Z" fill="#000" stroke="#000" stroke-width="3" transform="translate(1.2,1.2)"/><path d="M562.6,1507.0L677.3,1507.0L677.3,1550.2L659.0,1550.2L673.5,1582.0L627.7,1550.2L562.6,1550.2Z" fill="#FF0000" stroke="#000" stroke-width="3" stroke-linejoin="miter"/><text x="620.0" y="1538.5" font-size="28" font-weight="bold" font-style="normal" fill="#fff" text-anchor="middle" >Dec-19</text><path d="M179.5,1621.8L193.9,1647.0L208.2,1621.8Z" fill="#0000FF"/><rect x="159.5" y="1577.0" width="123.8" height="44.8" fill="#0000FF"/><text x="221.4" y="1609.3" font-size="28" font-weight="bold" font-style="italic" fill="#fff" text-anchor="middle" >Jan-12</text><path d="M468.7,1634.3L580.8,1634.3L580.8,1681.3L562.6,1681.3L549.0,1716.5L533.9,1681.3L468.7,1681.3Z" fill="#000" stroke="#000" stroke-width="3" transform="translate(1.2,1.2)"/><path d="M468.7,1634.3L580.8,1634.3L580.8,1681.3L562.6,1681.3L549.0,1716.5L533.9,1681.3L468.7,1681.3Z" fill="#E8853D" stroke="#000" stroke-width="3" stroke-linejoin="miter"/><text x="524.8" y="1667.7" font-size="28" font-weight="bold" font-style="normal" fill="#fff" text-anchor="middle" >Jun-20</text><path d="M439.5,1972.8L408.0,1977.8L439.5,1987.8Z" fill="#0000FF"/><rect x="439.5" y="1966.0" width="110.4" height="44.2" fill="#0000FF"/><text x="494.7" y="1998.0" font-size="28" font-weight="bold" font-style="italic" fill="#fff" text-anchor="middle" >Sep-99</text></g>
<g id="p4"><rect x="839.6" y="1088.6" width="784.1" height="1037.7000000000003" fill="#fff" stroke="#4a4a4a" stroke-width="1.2"/>
<text x="1259.5" y="1134.1" font-size="32.7" font-weight="normal" font-style="normal" fill="#000" text-anchor="middle" >Smoothed Monthly Max Temp and Temp</text>
<text x="1259.5" y="1171.6" font-size="32.7" font-weight="normal" font-style="normal" fill="#000" text-anchor="middle" >Range Anomalies, Manilla NSW</text>
<text x="1259.5" y="1205.2" font-size="28.2" font-weight="bold" font-style="normal" fill="#000" text-anchor="middle" >Jul-17 to Jun-20</text>
<path d="M969.0,1231.8V2007.9M1030.5,1231.8V2007.9M1092.0,1231.8V2007.9M1153.5,1231.8V2007.9M1215.0,1231.8V2007.9M1276.5,1231.8V2007.9M1337.9,1231.8V2007.9M1399.4,1231.8V2007.9M1460.9,1231.8V2007.9M1522.4,1231.8V2007.9M1583.9,1231.8V2007.9M969,1231.8H1583.9M969,1309.4H1583.9M969,1387.0H1583.9M969,1464.6H1583.9M969,1542.2H1583.9M969,1619.8H1583.9M969,1697.5H1583.9M969,1775.1H1583.9M969,1852.7H1583.9M969,1930.3H1583.9M969,2007.9H1583.9" stroke="#1a1a1a" stroke-width="1.1" fill="none"/>
<rect x="969" y="1231.8" width="614.9000000000001" height="776.1000000000001" fill="none" stroke="#808080" stroke-width="1.6"/>
<path d="M969,1231.8V2007.9M969,2007.9H1583.9M969.0,2007.9v8.5M981.3,2007.9v-5M993.6,2007.9v-5M1005.9,2007.9v-5M1018.2,2007.9v-5M1030.5,2007.9v8.5M1042.8,2007.9v-5M1055.1,2007.9v-5M1067.4,2007.9v-5M1079.7,2007.9v-5M1092.0,2007.9v8.5M1104.3,2007.9v-5M1116.6,2007.9v-5M1128.9,2007.9v-5M1141.2,2007.9v-5M1153.5,2007.9v8.5M1165.8,2007.9v-5M1178.1,2007.9v-5M1190.4,2007.9v-5M1202.7,2007.9v-5M1215.0,2007.9v8.5M1227.3,2007.9v-5M1239.6,2007.9v-5M1251.9,2007.9v-5M1264.2,2007.9v-5M1276.5,2007.9v8.5M1288.7,2007.9v-5M1301.0,2007.9v-5M1313.3,2007.9v-5M1325.6,2007.9v-5M1337.9,2007.9v8.5M1350.2,2007.9v-5M1362.5,2007.9v-5M1374.8,2007.9v-5M1387.1,2007.9v-5M1399.4,2007.9v8.5M1411.7,2007.9v-5M1424.0,2007.9v-5M1436.3,2007.9v-5M1448.6,2007.9v-5M1460.9,2007.9v8.5M1473.2,2007.9v-5M1485.5,2007.9v-5M1497.8,2007.9v-5M1510.1,2007.9v-5M1522.4,2007.9v8.5M1534.7,2007.9v-5M1547.0,2007.9v-5M1559.3,2007.9v-5M1571.6,2007.9v-5M1583.9,2007.9v8.5M969,1231.8h-8.5M969,1309.4h-8.5M969,1387.0h-8.5M969,1464.6h-8.5M969,1542.2h-8.5M969,1619.8h-8.5M969,1697.5h-8.5M969,1775.1h-8.5M969,1852.7h-8.5M969,1930.3h-8.5M969,2007.9h-8.5M969,1247.3h5M969,1262.8h5M969,1278.4h5M969,1293.9h5M969,1324.9h5M969,1340.5h5M969,1356.0h5M969,1371.5h5M969,1402.5h5M969,1418.1h5M969,1433.6h5M969,1449.1h5M969,1480.2h5M969,1495.7h5M969,1511.2h5M969,1526.7h5M969,1557.8h5M969,1573.3h5M969,1588.8h5M969,1604.3h5M969,1635.4h5M969,1650.9h5M969,1666.4h5M969,1681.9h5M969,1713.0h5M969,1728.5h5M969,1744.0h5M969,1759.5h5M969,1790.6h5M969,1806.1h5M969,1821.6h5M969,1837.2h5M969,1868.2h5M969,1883.7h5M969,1899.2h5M969,1914.8h5M969,1945.8h5M969,1961.3h5M969,1976.9h5M969,1992.4h5" stroke="#000" stroke-width="1.2" fill="none"/>
<text transform="translate(969.0,2048.9) scale(0.74,1)" font-size="27.8" fill="#000" text-anchor="middle">-2.5°</text>
<text transform="translate(1030.5,2048.9) scale(0.74,1)" font-size="27.8" fill="#000" text-anchor="middle">-2.0°</text>
<text transform="translate(1092.0,2048.9) scale(0.74,1)" font-size="27.8" fill="#000" text-anchor="middle">-1.5°</text>
<text transform="translate(1153.5,2048.9) scale(0.74,1)" font-size="27.8" fill="#000" text-anchor="middle">-1.0°</text>
<text transform="translate(1215.0,2048.9) scale(0.74,1)" font-size="27.8" fill="#000" text-anchor="middle">-0.5°</text>
<text transform="translate(1276.5,2048.9) scale(0.74,1)" font-size="27.8" fill="#000" text-anchor="middle">0.0°</text>
<text transform="translate(1337.9,2048.9) scale(0.74,1)" font-size="27.8" fill="#000" text-anchor="middle">0.5°</text>
<text transform="translate(1399.4,2048.9) scale(0.74,1)" font-size="27.8" fill="#000" text-anchor="middle">1.0°</text>
<text transform="translate(1460.9,2048.9) scale(0.74,1)" font-size="27.8" fill="#000" text-anchor="middle">1.5°</text>
<text transform="translate(1522.4,2048.9) scale(0.74,1)" font-size="27.8" fill="#000" text-anchor="middle">2.0°</text>
<text transform="translate(1583.9,2048.9) scale(0.74,1)" font-size="27.8" fill="#000" text-anchor="middle">2.5°</text>
<text transform="translate(945.5,1240.3) scale(0.98,1)" font-size="25.4" fill="#000" text-anchor="end">2.0°</text>
<text transform="translate(945.5,1317.9) scale(0.98,1)" font-size="25.4" fill="#000" text-anchor="end">1.5°</text>
<text transform="translate(945.5,1395.5) scale(0.98,1)" font-size="25.4" fill="#000" text-anchor="end">1.0°</text>
<text transform="translate(945.5,1473.1) scale(0.98,1)" font-size="25.4" fill="#000" text-anchor="end">0.5°</text>
<text transform="translate(945.5,1550.7) scale(0.98,1)" font-size="25.4" fill="#000" text-anchor="end">0.0°</text>
<text transform="translate(945.5,1628.3) scale(0.98,1)" font-size="25.4" fill="#000" text-anchor="end">-0.5°</text>
<text transform="translate(945.5,1706.0) scale(0.98,1)" font-size="25.4" fill="#000" text-anchor="end">-1.0°</text>
<text transform="translate(945.5,1783.6) scale(0.98,1)" font-size="25.4" fill="#000" text-anchor="end">-1.5°</text>
<text transform="translate(945.5,1861.2) scale(0.98,1)" font-size="25.4" fill="#000" text-anchor="end">-2.0°</text>
<text transform="translate(945.5,1938.8) scale(0.98,1)" font-size="25.4" fill="#000" text-anchor="end">-2.5°</text>
<text transform="translate(945.5,2016.4) scale(0.98,1)" font-size="25.4" fill="#000" text-anchor="end">-3.0°</text>
<text transform="translate(1280.4,2100.6) scale(1.0,1)" font-size="28" fill="#000" text-anchor="middle">Daily Max Temp Anomaly</text>
<text transform="translate(883,1618.5) rotate(-90) scale(0.813,1)" font-size="34" text-anchor="middle">Temp Range Anomaly</text>
<clipPath id="clip4"><rect x="969" y="1230.8" width="615.9000000000001" height="778.1000000000001"/></clipPath>
<path d="M1504.3,1482.2C1499.1,1492.2 1482.1,1525.5 1473.2,1542.2C1464.3,1559.0 1456.1,1573.7 1450.8,1582.6C1445.6,1591.5 1450.3,1586.3 1441.9,1595.8C1433.4,1605.3 1413.6,1625.3 1399.9,1639.7C1386.3,1654.2 1370.0,1672.0 1360.1,1682.6C1350.2,1693.1 1346.4,1696.8 1340.4,1702.9C1334.4,1709.0 1334.2,1710.4 1324.2,1719.0C1314.2,1727.6 1297.1,1743.5 1280.4,1754.4C1263.7,1765.3 1241.5,1775.8 1223.9,1784.5C1206.4,1793.3 1187.0,1802.1 1175.1,1807.0C1163.2,1812.0 1158.4,1813.1 1152.4,1814.5C1146.3,1815.9 1143.5,1816.3 1139.0,1815.4C1134.4,1814.6 1129.4,1812.4 1125.2,1809.5C1121.0,1806.6 1116.9,1802.2 1113.6,1798.0C1110.4,1793.9 1106.0,1789.0 1105.6,1784.4C1105.3,1779.8 1108.8,1775.4 1111.7,1770.4C1114.5,1765.5 1119.4,1758.2 1122.8,1754.7C1126.3,1751.3 1125.9,1753.3 1132.1,1749.8C1138.2,1746.3 1145.8,1742.2 1159.6,1733.6C1173.4,1725.0 1196.6,1709.6 1215.0,1698.1C1233.4,1686.6 1249.4,1677.2 1270.1,1664.7C1290.7,1652.2 1320.7,1634.6 1339.0,1623.3C1357.4,1611.9 1373.1,1601.1 1379.9,1596.7" fill="none" stroke="#FF0000" stroke-width="4.5" stroke-dasharray="11 7"/>
<path d="M1340.4,1454.2C1342.0,1449.9 1346.5,1433.6 1350.2,1428.0C1353.9,1422.4 1356.4,1421.3 1362.5,1420.7C1368.7,1420.1 1379.3,1421.6 1387.1,1424.1C1394.9,1426.7 1401.5,1434.3 1409.3,1435.9C1417.1,1437.5 1425.9,1434.6 1433.9,1433.7C1441.9,1432.8 1451.3,1431.5 1457.2,1430.5C1463.2,1429.4 1466.5,1430.5 1469.5,1427.4C1472.6,1424.2 1475.5,1415.7 1475.7,1411.5C1475.9,1407.4 1474.7,1405.1 1470.8,1402.5C1466.9,1400.0 1459.0,1395.4 1452.3,1396.5C1445.6,1397.5 1438.0,1402.7 1430.8,1408.9C1423.6,1415.1 1415.3,1422.5 1409.3,1433.6C1403.2,1444.7 1396.7,1461.0 1394.5,1475.7C1392.4,1490.3 1392.7,1507.5 1396.4,1521.4C1400.0,1535.4 1408.2,1549.9 1416.6,1559.3C1425.1,1568.7 1436.6,1572.0 1446.8,1577.6C1456.9,1583.3 1469.3,1589.5 1477.6,1593.3C1485.9,1597.1 1493.6,1599.3 1496.6,1600.6C1499.5,1601.9 1497.8,1601.8 1495.4,1601.2C1492.9,1600.7 1486.8,1601.3 1481.8,1597.2C1476.8,1593.0 1470.1,1585.8 1465.2,1576.4C1460.3,1567.0 1453.6,1555.6 1452.3,1541.0C1451.0,1526.4 1453.3,1507.2 1457.2,1488.7C1461.1,1470.2 1468.1,1447.9 1475.7,1429.9C1483.3,1411.8 1493.5,1392.6 1502.7,1380.2C1512.0,1367.8 1523.4,1357.8 1531.0,1355.4C1538.6,1352.9 1546.7,1356.1 1548.2,1365.3C1549.8,1374.4 1547.3,1390.8 1540.5,1410.3C1533.7,1429.8 1513.1,1470.2 1507.7,1482.2" fill="none" stroke="#FF0000" stroke-width="7.5" stroke-linejoin="round"/>
<path d="M1340.4,1443.0L1351.6,1454.2L1340.4,1465.4L1329.2,1454.2Z" fill="#FF0000" stroke="#300000" stroke-width="1"/>
<path d="M1350.2,1416.8L1361.4,1428.0L1350.2,1439.2L1339.0,1428.0Z" fill="#FF0000" stroke="#300000" stroke-width="1"/>
<path d="M1362.5,1409.5L1373.7,1420.7L1362.5,1431.9L1351.3,1420.7Z" fill="#FF0000" stroke="#300000" stroke-width="1"/>
<path d="M1387.1,1412.9L1398.3,1424.1L1387.1,1435.3L1375.9,1424.1Z" fill="#FF0000" stroke="#300000" stroke-width="1"/>
<path d="M1409.3,1424.7L1420.5,1435.9L1409.3,1447.1L1398.1,1435.9Z" fill="#FF0000" stroke="#300000" stroke-width="1"/>
<path d="M1433.9,1422.5L1445.1,1433.7L1433.9,1444.9L1422.7,1433.7Z" fill="#FF0000" stroke="#300000" stroke-width="1"/>
<path d="M1469.5,1416.2L1480.7,1427.4L1469.5,1438.6L1458.3,1427.4Z" fill="#FF0000" stroke="#300000" stroke-width="1"/>
<path d="M1475.7,1400.3L1486.9,1411.5L1475.7,1422.7L1464.5,1411.5Z" fill="#FF0000" stroke="#300000" stroke-width="1"/>
<path d="M1470.8,1391.3L1482.0,1402.5L1470.8,1413.7L1459.6,1402.5Z" fill="#FF0000" stroke="#300000" stroke-width="1"/>
<path d="M1452.3,1385.3L1463.5,1396.5L1452.3,1407.7L1441.1,1396.5Z" fill="#FF0000" stroke="#300000" stroke-width="1"/>
<path d="M1430.8,1397.7L1442.0,1408.9L1430.8,1420.1L1419.6,1408.9Z" fill="#FF0000" stroke="#300000" stroke-width="1"/>
<path d="M1409.3,1422.4L1420.5,1433.6L1409.3,1444.8L1398.1,1433.6Z" fill="#FF0000" stroke="#300000" stroke-width="1"/>
<path d="M1394.5,1464.5L1405.7,1475.7L1394.5,1486.9L1383.3,1475.7Z" fill="#FF0000" stroke="#300000" stroke-width="1"/>
<path d="M1396.4,1510.2L1407.6,1521.4L1396.4,1532.6L1385.2,1521.4Z" fill="#FF0000" stroke="#300000" stroke-width="1"/>
<path d="M1416.6,1548.1L1427.8,1559.3L1416.6,1570.5L1405.4,1559.3Z" fill="#FF0000" stroke="#300000" stroke-width="1"/>
<path d="M1446.8,1566.4L1458.0,1577.6L1446.8,1588.8L1435.6,1577.6Z" fill="#FF0000" stroke="#300000" stroke-width="1"/>
<path d="M1477.6,1582.1L1488.8,1593.3L1477.6,1604.5L1466.4,1593.3Z" fill="#FF0000" stroke="#300000" stroke-width="1"/>
<path d="M1495.4,1590.0L1506.6,1601.2L1495.4,1612.4L1484.2,1601.2Z" fill="#FF0000" stroke="#300000" stroke-width="1"/>
<path d="M1481.8,1586.0L1493.0,1597.2L1481.8,1608.4L1470.6,1597.2Z" fill="#FF0000" stroke="#300000" stroke-width="1"/>
<path d="M1465.2,1565.2L1476.4,1576.4L1465.2,1587.6L1454.0,1576.4Z" fill="#FF0000" stroke="#300000" stroke-width="1"/>
<path d="M1452.3,1529.8L1463.5,1541.0L1452.3,1552.2L1441.1,1541.0Z" fill="#FF0000" stroke="#300000" stroke-width="1"/>
<path d="M1457.2,1477.5L1468.4,1488.7L1457.2,1499.9L1446.0,1488.7Z" fill="#FF0000" stroke="#300000" stroke-width="1"/>
<path d="M1475.7,1418.7L1486.9,1429.9L1475.7,1441.1L1464.5,1429.9Z" fill="#FF0000" stroke="#300000" stroke-width="1"/>
<path d="M1502.7,1369.0L1513.9,1380.2L1502.7,1391.4L1491.5,1380.2Z" fill="#FF0000" stroke="#300000" stroke-width="1"/>
<path d="M1531.0,1344.2L1542.2,1355.4L1531.0,1366.6L1519.8,1355.4Z" fill="#FF0000" stroke="#300000" stroke-width="1"/>
<path d="M1548.2,1354.1L1559.4,1365.3L1548.2,1376.5L1537.0,1365.3Z" fill="#FF0000" stroke="#300000" stroke-width="1"/>
<path d="M1540.5,1399.1L1551.7,1410.3L1540.5,1421.5L1529.3,1410.3Z" fill="#FF0000" stroke="#300000" stroke-width="1"/>
<path d="M1507.7,1471.0L1518.9,1482.2L1507.7,1493.4L1496.5,1482.2Z" fill="#FF0000" stroke="#300000" stroke-width="1"/>
<rect x="1439.6" y="1571.1" width="23.0" height="23.0" fill="#fff" stroke="#333" stroke-width="1"/>
<path d="M1323.2,1708.0L1334.2,1719.0L1323.2,1730.0L1312.2,1719.0Z" fill="#fff" stroke="#222" stroke-width="1"/>
<path d="M1153.5,1803.5L1164.5,1814.5L1153.5,1825.5L1142.5,1814.5Z" fill="#fff" stroke="#222" stroke-width="1"/>
<path d="M1106.7,1773.4L1117.7,1784.4L1106.7,1795.4L1095.7,1784.4Z" fill="#fff" stroke="#222" stroke-width="1"/>
<path d="M1124.0,1743.7L1135.0,1754.7L1124.0,1765.7L1113.0,1754.7Z" fill="#fff" stroke="#222" stroke-width="1"/>
<path d="M1379.8,1585.7L1390.8,1596.7L1379.8,1607.7L1368.8,1596.7Z" fill="#E8853D" stroke="#5a2a00" stroke-width="1"/>
<rect x="1445.7" y="1419.0" width="23.0" height="23.0" fill="#FF0000" stroke="#300000" stroke-width="1"/>
<rect x="1485.1" y="1589.1" width="23.0" height="23.0" fill="#FF0000" stroke="#300000" stroke-width="1"/>
<g clip-path="url(#clip4)">
<rect x="1028.0" y="1350.1" width="520.6" height="628.3" fill="none" stroke="#1a1aff" stroke-width="3.6"/>
<line x1="969.0" y1="2007.9" x2="1481.5" y2="1231.8" stroke="#0000FF" stroke-width="5.5"/>
</g>
<path d="M1190.4,1433.6H1362.5V1650.9H1190.4Z" fill="none" stroke="#33CCCC" stroke-width="4.5" stroke-dasharray="36.5 15.2" stroke-dashoffset="0"/>
<rect x="1186.9" y="1430.1" width="7" height="7" fill="#33CCCC" stroke="#1a4d4d" stroke-width="1"/>
<rect x="1359.0" y="1430.1" width="7" height="7" fill="#33CCCC" stroke="#1a4d4d" stroke-width="1"/>
<rect x="1359.0" y="1647.4" width="7" height="7" fill="#33CCCC" stroke="#1a4d4d" stroke-width="1"/>
<rect x="1186.9" y="1647.4" width="7" height="7" fill="#33CCCC" stroke="#1a4d4d" stroke-width="1"/>
<circle cx="1276.5" cy="1542.2" r="13.5" fill="#00F0F0" stroke="#000" stroke-width="1"/>
<path d="M1380.4,1407.8L1418.2,1415.6" fill="none" stroke="#FF0000" stroke-width="4.6"/><path d="M1398.0,1419.1L1418.2,1415.6L1401.0,1404.4" fill="none" stroke="#FF0000" stroke-width="4.6" stroke-linejoin="miter"/>
<path d="M1457.3,1378.6L1424.7,1392.1" fill="none" stroke="#FF0000" stroke-width="4.6"/><path d="M1439.4,1377.9L1424.7,1392.1L1445.2,1391.7" fill="none" stroke="#FF0000" stroke-width="4.6" stroke-linejoin="miter"/>
<path d="M1422.1,1449.5L1450.8,1450.8" fill="none" stroke="#FF0000" stroke-width="4.6"/><path d="M1431.4,1457.4L1450.8,1450.8L1432.1,1442.4" fill="none" stroke="#FF0000" stroke-width="4.6" stroke-linejoin="miter"/>
<path d="M1413.0,1462.5L1409.1,1497.7" fill="none" stroke="#FF0000" stroke-width="4.6"/><path d="M1403.7,1477.9L1409.1,1497.7L1418.7,1479.6" fill="none" stroke="#FF0000" stroke-width="4.6" stroke-linejoin="miter"/>
<path d="M1435.1,1525.1L1440.4,1480.8" fill="none" stroke="#FF0000" stroke-width="4.6"/><path d="M1445.6,1500.6L1440.4,1480.8L1430.7,1498.8" fill="none" stroke="#FF0000" stroke-width="4.6" stroke-linejoin="miter"/>
<path d="M1500.3,1419.5L1521.2,1379.1" fill="none" stroke="#FF0000" stroke-width="4.6"/><path d="M1519.1,1399.5L1521.2,1379.1L1505.8,1392.6" fill="none" stroke="#FF0000" stroke-width="4.6" stroke-linejoin="miter"/>
<path d="M1565.5,1398.6L1532.9,1462.5" fill="none" stroke="#FF0000" stroke-width="4.6"/><path d="M1534.9,1442.1L1532.9,1462.5L1548.3,1448.9" fill="none" stroke="#FF0000" stroke-width="4.6" stroke-linejoin="miter"/>
<path d="M1386.9,1561.6L1426.0,1589.0" fill="none" stroke="#FF0000" stroke-width="4.6"/><path d="M1406.1,1584.2L1426.0,1589.0L1414.7,1571.9" fill="none" stroke="#FF0000" stroke-width="4.6" stroke-linejoin="miter"/>
<path d="M1138.3,1729.8L1291.6,1641.5" fill="none" stroke="#FF0000" stroke-width="4.5" stroke-dasharray="17 7.5"/><path d="M1281.0,1654.8L1291.6,1641.5L1274.8,1644.0" fill="none" stroke="#FF0000" stroke-width="4.5" stroke-linejoin="miter"/>
<path d="M1451.3,1607.6L1381.0,1690.3" fill="none" stroke="#FF0000" stroke-width="4.5" stroke-dasharray="17 7.5"/><path d="M1386.5,1674.2L1381.0,1690.3L1396.0,1682.3" fill="none" stroke="#FF0000" stroke-width="4.5" stroke-linejoin="miter"/>
<path d="M1282.2,1765.5L1203.3,1811.3" fill="none" stroke="#FF0000" stroke-width="4.5" stroke-dasharray="17 7.5"/><path d="M1213.9,1798.0L1203.3,1811.3L1220.1,1808.7" fill="none" stroke="#FF0000" stroke-width="4.5" stroke-linejoin="miter"/>
<path d="M1124.7,1831.8L1095.0,1810.1" fill="none" stroke="#FF0000" stroke-width="4.5" stroke-dasharray="17 7.5"/><path d="M1111.4,1814.4L1095.0,1810.1L1104.1,1824.5" fill="none" stroke="#FF0000" stroke-width="4.5" stroke-linejoin="miter"/>
<path d="M1548.2,1357.1L1556.4,1365.3L1548.2,1373.5L1540.0,1365.3Z" fill="#0000FF" stroke="#000060" stroke-width="1"/>
<path d="M1400.5,1341.9L1408.7,1350.1L1400.5,1358.3L1392.3,1350.1Z" fill="#0000FF" stroke="#000060" stroke-width="1"/>
<path d="M1027.0,1689.7L1035.2,1697.9L1027.0,1706.1L1018.8,1697.9Z" fill="#0000FF" stroke="#000060" stroke-width="1"/>
<path d="M1051.9,1968.7L1060.1,1976.9L1051.9,1985.1L1043.7,1976.9Z" fill="#0000FF" stroke="#000060" stroke-width="1"/>
<rect x="976.9" y="1233.6" width="205.3" height="73.8" fill="#fff" stroke="#000" stroke-width="1.7"/><text x="1079.5" y="1264.7" font-size="28.2" font-weight="bold" font-style="italic" text-anchor="middle" xml:space="preserve"><tspan fill="#000">Cold Extreme</tspan></text><text x="1079.5" y="1296.3" font-size="28.2" font-weight="bold" font-style="italic" text-anchor="middle" xml:space="preserve"><tspan fill="#0000FF">(Siberia)</tspan></text><rect x="1271.7" y="1234.3" width="309.6" height="35.8" fill="#fff" stroke="#000" stroke-width="1.7"/><text x="1426.5" y="1262.2" font-size="28.2" font-weight="bold" font-style="italic" text-anchor="middle" xml:space="preserve"><tspan fill="#000">Hot Extreme </tspan><tspan fill="#0000FF">(Sahara)</tspan></text><clipPath id="tbc1"><rect x="970" y="1970" width="400" height="38.90000000000009"/></clipPath><g clip-path="url(#tbc1)"><rect x="975.3" y="1975.4" width="391.5" height="33.0" fill="#fff" stroke="#000" stroke-width="1.7"/><text x="1171.0" y="2006.2" font-size="28.2" font-weight="bold" font-style="italic" text-anchor="middle" xml:space="preserve"><tspan fill="#000">Cold Equable (</tspan><tspan fill="#0000FF">Macquarie I.)</tspan></text></g><rect x="1394.9" y="1932.0" width="184.2" height="74.0" fill="#fff" stroke="#000" stroke-width="1.7"/><text x="1487.0" y="1963.2" font-size="28.2" font-weight="bold" font-style="italic" text-anchor="middle" xml:space="preserve"><tspan fill="#000">Hot Equable</tspan></text><text x="1487.0" y="1994.8" font-size="28.2" font-weight="bold" font-style="italic" text-anchor="middle" xml:space="preserve"><tspan fill="#0000FF">(Pacific)</tspan></text><path d="M1388.2,1323.2L1400.5,1347.0L1418.2,1323.2Z" fill="#0000FF"/><rect x="1325.6" y="1277.0" width="106.3" height="46.2" fill="#0000FF"/><text x="1378.8" y="1310.0" font-size="28" font-weight="bold" font-style="italic" fill="#fff" text-anchor="middle" >Jul-02</text><path d="M1534.2,1323.2L1548.6,1360.8L1559.0,1323.2Z" fill="#0000FF"/><rect x="1468.0" y="1277.0" width="111.0" height="46.2" fill="#0000FF"/><text x="1523.5" y="1310.0" font-size="28" font-weight="bold" font-style="italic" fill="#fff" text-anchor="middle" >Oct-19</text><path d="M1323.0,1389.7L1362.9,1415.6L1355.6,1389.7Z" fill="#FF0000"/><rect x="1251.4" y="1341.5" width="119.6" height="48.2" fill="#FF0000"/><text x="1311.2" y="1375.5" font-size="28" font-weight="bold" font-style="normal" fill="#fff" text-anchor="middle" >Sep-17</text><path d="M1195.2,1422.2L1313.5,1422.2L1313.5,1449.5L1334.0,1455.2L1313.5,1459.9L1313.5,1467.5L1195.2,1467.5Z" fill="#000" stroke="#000" stroke-width="3" transform="translate(1.2,1.2)"/><path d="M1195.2,1422.2L1313.5,1422.2L1313.5,1449.5L1334.0,1455.2L1313.5,1459.9L1313.5,1467.5L1195.2,1467.5Z" fill="#FF0000" stroke="#000" stroke-width="3" stroke-linejoin="miter"/><text x="1254.3" y="1454.8" font-size="28" font-weight="bold" font-style="normal" fill="#fff" text-anchor="middle" >Jul-17</text><path d="M1466.4,1506.9L1486.0,1506.9L1503.0,1487.0L1512.1,1506.9L1578.0,1506.9L1578.0,1545.2L1466.4,1545.2Z" fill="#000" stroke="#000" stroke-width="3" transform="translate(1.2,1.2)"/><path d="M1466.4,1506.9L1486.0,1506.9L1503.0,1487.0L1512.1,1506.9L1578.0,1506.9L1578.0,1545.2L1466.4,1545.2Z" fill="#FF0000" stroke="#000" stroke-width="3" stroke-linejoin="miter"/><text x="1522.2" y="1536.0" font-size="28" font-weight="bold" font-style="normal" fill="#fff" text-anchor="middle" >Dec-19</text><path d="M1222.0,1566.8L1337.0,1566.8L1337.0,1590.7L1373.0,1596.3L1337.0,1602.5L1337.0,1609.5L1222.0,1609.5Z" fill="#000" stroke="#000" stroke-width="3" transform="translate(1.2,1.2)"/><path d="M1222.0,1566.8L1337.0,1566.8L1337.0,1590.7L1373.0,1596.3L1337.0,1602.5L1337.0,1609.5L1222.0,1609.5Z" fill="#E8853D" stroke="#000" stroke-width="3" stroke-linejoin="miter"/><text x="1279.5" y="1598.1" font-size="28" font-weight="bold" font-style="normal" fill="#fff" text-anchor="middle" >Jun-20</text><path d="M1477.6,1631.3L1496.4,1609.5L1503.9,1631.3Z" fill="#FF0000"/><rect x="1453.2" y="1631.3" width="121.0" height="49.6" fill="#FF0000"/><text x="1513.7" y="1666.0" font-size="28" font-weight="bold" font-style="normal" fill="#fff" text-anchor="middle" >Jan-19</text><path d="M1017.8,1669.8L1027.0,1693.0L1045.6,1669.8Z" fill="#0000FF"/><rect x="996.1" y="1627.8" width="115.6" height="42.0" fill="#0000FF"/><text x="1053.9" y="1658.7" font-size="28" font-weight="bold" font-style="italic" fill="#fff" text-anchor="middle" >Jan-12</text><path d="M1058.2,1952.4L1049.3,1975.0L1088.1,1952.4Z" fill="#0000FF"/><rect x="1039.8" y="1908.3" width="114.3" height="44.1" fill="#0000FF"/><text x="1096.9" y="1940.3" font-size="28" font-weight="bold" font-style="italic" fill="#fff" text-anchor="middle" >Sep-10</text></g>
<g id="p5"><rect x="8.3" y="2174.4" width="786.1" height="1034.6" fill="#fff" stroke="#4a4a4a" stroke-width="1.2"/>
<text x="437.4" y="2222.5" font-size="32.7" font-weight="normal" font-style="normal" fill="#000" text-anchor="middle" >Smoothed Monthly Max Temp and Min</text>
<text x="437.4" y="2261.3" font-size="32.7" font-weight="normal" font-style="normal" fill="#000" text-anchor="middle" >Temp Anomalies, Manilla NSW</text>
<text x="437.4" y="2292.7" font-size="28.2" font-weight="bold" font-style="normal" fill="#000" text-anchor="middle" >Jul-17 to Jun-20</text>
<path d="M127.7,2318.5V3093.7M191.0,2318.5V3093.7M254.3,2318.5V3093.7M317.7,2318.5V3093.7M381.0,2318.5V3093.7M444.3,2318.5V3093.7M507.6,2318.5V3093.7M570.9,2318.5V3093.7M634.3,2318.5V3093.7M697.6,2318.5V3093.7M760.9,2318.5V3093.7M127.7,2318.5H760.9M127.7,2415.4H760.9M127.7,2512.3H760.9M127.7,2609.2H760.9M127.7,2706.1H760.9M127.7,2803.0H760.9M127.7,2899.9H760.9M127.7,2996.8H760.9M127.7,3093.7H760.9" stroke="#1a1a1a" stroke-width="1.1" fill="none"/>
<rect x="127.7" y="2318.5" width="633.1999999999999" height="775.1999999999998" fill="none" stroke="#808080" stroke-width="1.6"/>
<path d="M127.7,2318.5V3093.7M127.7,3093.7H760.9M127.7,3093.7v8.5M140.4,3093.7v-5M153.0,3093.7v-5M165.7,3093.7v-5M178.4,3093.7v-5M191.0,3093.7v8.5M203.7,3093.7v-5M216.3,3093.7v-5M229.0,3093.7v-5M241.7,3093.7v-5M254.3,3093.7v8.5M267.0,3093.7v-5M279.7,3093.7v-5M292.3,3093.7v-5M305.0,3093.7v-5M317.7,3093.7v8.5M330.3,3093.7v-5M343.0,3093.7v-5M355.7,3093.7v-5M368.3,3093.7v-5M381.0,3093.7v8.5M393.6,3093.7v-5M406.3,3093.7v-5M419.0,3093.7v-5M431.6,3093.7v-5M444.3,3093.7v8.5M457.0,3093.7v-5M469.6,3093.7v-5M482.3,3093.7v-5M495.0,3093.7v-5M507.6,3093.7v8.5M520.3,3093.7v-5M532.9,3093.7v-5M545.6,3093.7v-5M558.3,3093.7v-5M570.9,3093.7v8.5M583.6,3093.7v-5M596.3,3093.7v-5M608.9,3093.7v-5M621.6,3093.7v-5M634.3,3093.7v8.5M646.9,3093.7v-5M659.6,3093.7v-5M672.3,3093.7v-5M684.9,3093.7v-5M697.6,3093.7v8.5M710.2,3093.7v-5M722.9,3093.7v-5M735.6,3093.7v-5M748.2,3093.7v-5M760.9,3093.7v8.5M127.7,2318.5h-8.5M127.7,2415.4h-8.5M127.7,2512.3h-8.5M127.7,2609.2h-8.5M127.7,2706.1h-8.5M127.7,2803.0h-8.5M127.7,2899.9h-8.5M127.7,2996.8h-8.5M127.7,3093.7h-8.5M127.7,2337.9h5M127.7,2357.3h5M127.7,2376.6h5M127.7,2396.0h5M127.7,2434.8h5M127.7,2454.2h5M127.7,2473.5h5M127.7,2492.9h5M127.7,2531.7h5M127.7,2551.1h5M127.7,2570.4h5M127.7,2589.8h5M127.7,2628.6h5M127.7,2648.0h5M127.7,2667.3h5M127.7,2686.7h5M127.7,2725.5h5M127.7,2744.9h5M127.7,2764.2h5M127.7,2783.6h5M127.7,2822.4h5M127.7,2841.8h5M127.7,2861.1h5M127.7,2880.5h5M127.7,2919.3h5M127.7,2938.7h5M127.7,2958.0h5M127.7,2977.4h5M127.7,3016.2h5M127.7,3035.6h5M127.7,3054.9h5M127.7,3074.3h5" stroke="#000" stroke-width="1.2" fill="none"/>
<text transform="translate(127.7,3134.0) scale(0.82,1)" font-size="25" fill="#000" text-anchor="middle">-2.5°</text>
<text transform="translate(191.0,3134.0) scale(0.82,1)" font-size="25" fill="#000" text-anchor="middle">-2.0°</text>
<text transform="translate(254.3,3134.0) scale(0.82,1)" font-size="25" fill="#000" text-anchor="middle">-1.5°</text>
<text transform="translate(317.7,3134.0) scale(0.82,1)" font-size="25" fill="#000" text-anchor="middle">-1.0°</text>
<text transform="translate(381.0,3134.0) scale(0.82,1)" font-size="25" fill="#000" text-anchor="middle">-0.5°</text>
<text transform="translate(444.3,3134.0) scale(0.82,1)" font-size="25" fill="#000" text-anchor="middle">0.0°</text>
<text transform="translate(507.6,3134.0) scale(0.82,1)" font-size="25" fill="#000" text-anchor="middle">0.5°</text>
<text transform="translate(570.9,3134.0) scale(0.82,1)" font-size="25" fill="#000" text-anchor="middle">1.0°</text>
<text transform="translate(634.3,3134.0) scale(0.82,1)" font-size="25" fill="#000" text-anchor="middle">1.5°</text>
<text transform="translate(697.6,3134.0) scale(0.82,1)" font-size="25" fill="#000" text-anchor="middle">2.0°</text>
<text transform="translate(760.9,3134.0) scale(0.82,1)" font-size="25" fill="#000" text-anchor="middle">2.5°</text>
<text transform="translate(104.2,2326.3) scale(1.02,1)" font-size="23.4" fill="#000" text-anchor="end">2.5°</text>
<text transform="translate(104.2,2423.2) scale(1.02,1)" font-size="23.4" fill="#000" text-anchor="end">2.0°</text>
<text transform="translate(104.2,2520.1) scale(1.02,1)" font-size="23.4" fill="#000" text-anchor="end">1.5°</text>
<text transform="translate(104.2,2617.0) scale(1.02,1)" font-size="23.4" fill="#000" text-anchor="end">1.0°</text>
<text transform="translate(104.2,2713.9) scale(1.02,1)" font-size="23.4" fill="#000" text-anchor="end">0.5°</text>
<text transform="translate(104.2,2810.8) scale(1.02,1)" font-size="23.4" fill="#000" text-anchor="end">0.0°</text>
<text transform="translate(104.2,2907.7) scale(1.02,1)" font-size="23.4" fill="#000" text-anchor="end">-0.5°</text>
<text transform="translate(104.2,3004.6) scale(1.02,1)" font-size="23.4" fill="#000" text-anchor="end">-1.0°</text>
<text transform="translate(104.2,3101.5) scale(1.02,1)" font-size="23.4" fill="#000" text-anchor="end">-1.5°</text>
<text transform="translate(448.3,3185.7) scale(1.0,1)" font-size="28" fill="#000" text-anchor="middle">Daily Max Temp Anomaly</text>
<text transform="translate(50.5,2700.6) rotate(-90) scale(0.787,1)" font-size="34" text-anchor="middle">Daily Min Temp Anomaly</text>
<clipPath id="clip5"><rect x="127.7" y="2317.5" width="634.1999999999999" height="777.1999999999998"/></clipPath>
<path d="M678.8,2519.5C675.2,2515.0 663.4,2499.3 657.1,2492.9C650.7,2486.6 646.2,2483.5 640.6,2481.3C634.9,2479.1 631.3,2480.4 623.1,2479.7C614.9,2479.1 602.0,2476.5 591.2,2477.4C580.4,2478.3 569.0,2482.1 558.3,2485.2C547.5,2488.2 537.5,2491.9 526.6,2495.8C515.7,2499.8 503.4,2503.8 493.1,2508.8C482.7,2513.8 475.2,2518.5 464.6,2525.9C453.9,2533.2 442.0,2542.0 429.1,2553.0C416.2,2564.0 400.6,2579.2 387.3,2591.8C374.0,2604.4 361.1,2616.8 349.3,2628.6C337.5,2640.4 325.3,2652.5 316.6,2662.5C308.0,2672.5 303.0,2679.1 297.4,2688.7C291.8,2698.2 286.6,2709.3 282.8,2719.7C279.0,2730.0 276.9,2741.7 274.6,2750.7C272.3,2759.7 267.0,2772.3 269.0,2773.5C271.1,2774.8 281.8,2762.7 287.0,2758.4C292.3,2754.1 290.3,2754.7 300.6,2747.8C310.8,2740.9 329.9,2729.6 348.7,2717.0C367.5,2704.3 391.7,2687.2 413.1,2671.8C434.6,2656.4 458.4,2638.7 477.2,2624.7C496.0,2610.7 513.8,2596.5 526.0,2587.9C538.1,2579.2 546.0,2575.3 550.0,2572.8" fill="none" stroke="#FF0000" stroke-width="4.5" stroke-dasharray="11 7"/>
<path d="M510.2,2813.5C511.8,2816.1 516.5,2829.0 520.3,2829.2C524.1,2829.3 526.6,2822.7 532.9,2814.2C539.3,2805.8 550.3,2792.1 558.3,2778.4C566.3,2764.7 573.1,2746.8 581.1,2732.1C589.1,2717.4 598.2,2702.5 606.4,2690.2C614.6,2677.9 624.3,2666.3 630.5,2658.4C636.6,2650.5 640.0,2644.4 643.1,2642.9C646.3,2641.4 649.2,2644.5 649.5,2649.5C649.7,2654.5 648.4,2664.0 644.4,2673.2C640.4,2682.3 632.3,2695.6 625.4,2704.2C618.5,2712.7 610.6,2720.3 603.2,2724.5C595.8,2728.7 587.3,2733.5 581.1,2729.4C574.8,2725.3 568.1,2715.0 565.9,2699.9C563.7,2684.8 564.0,2661.6 567.8,2638.7C571.6,2615.8 580.0,2587.4 588.7,2562.5C597.3,2537.6 609.2,2512.6 619.7,2489.0C630.2,2465.5 642.9,2438.7 651.5,2421.2C660.0,2403.7 667.9,2390.0 671.0,2384.2C674.0,2378.4 672.3,2382.1 669.7,2386.3C667.2,2390.6 661.0,2397.1 655.8,2409.6C650.6,2422.1 643.8,2442.1 638.7,2461.5C633.6,2480.9 626.8,2505.0 625.4,2525.9C624.0,2546.7 626.5,2569.6 630.5,2586.5C634.5,2603.5 641.6,2617.7 649.5,2627.6C657.3,2637.6 667.8,2645.2 677.3,2646.2C686.8,2647.2 698.6,2642.3 706.4,2633.8C714.3,2625.3 722.5,2609.1 724.2,2595.2C725.8,2581.4 723.2,2563.3 716.2,2550.7C709.2,2538.0 688.0,2524.7 682.4,2519.5" fill="none" stroke="#FF0000" stroke-width="7.5" stroke-linejoin="round"/>
<path d="M510.2,2802.3L521.4,2813.5L510.2,2824.7L499.0,2813.5Z" fill="#FF0000" stroke="#300000" stroke-width="1"/>
<path d="M520.3,2818.0L531.5,2829.2L520.3,2840.4L509.1,2829.2Z" fill="#FF0000" stroke="#300000" stroke-width="1"/>
<path d="M532.9,2803.0L544.1,2814.2L532.9,2825.4L521.7,2814.2Z" fill="#FF0000" stroke="#300000" stroke-width="1"/>
<path d="M558.3,2767.2L569.5,2778.4L558.3,2789.6L547.1,2778.4Z" fill="#FF0000" stroke="#300000" stroke-width="1"/>
<path d="M581.1,2720.9L592.3,2732.1L581.1,2743.3L569.9,2732.1Z" fill="#FF0000" stroke="#300000" stroke-width="1"/>
<path d="M606.4,2679.0L617.6,2690.2L606.4,2701.4L595.2,2690.2Z" fill="#FF0000" stroke="#300000" stroke-width="1"/>
<path d="M643.1,2631.7L654.3,2642.9L643.1,2654.1L631.9,2642.9Z" fill="#FF0000" stroke="#300000" stroke-width="1"/>
<path d="M649.5,2638.3L660.7,2649.5L649.5,2660.7L638.3,2649.5Z" fill="#FF0000" stroke="#300000" stroke-width="1"/>
<path d="M644.4,2662.0L655.6,2673.2L644.4,2684.4L633.2,2673.2Z" fill="#FF0000" stroke="#300000" stroke-width="1"/>
<path d="M625.4,2693.0L636.6,2704.2L625.4,2715.4L614.2,2704.2Z" fill="#FF0000" stroke="#300000" stroke-width="1"/>
<path d="M603.2,2713.3L614.4,2724.5L603.2,2735.7L592.0,2724.5Z" fill="#FF0000" stroke="#300000" stroke-width="1"/>
<path d="M581.1,2718.2L592.3,2729.4L581.1,2740.6L569.9,2729.4Z" fill="#FF0000" stroke="#300000" stroke-width="1"/>
<path d="M565.9,2688.7L577.1,2699.9L565.9,2711.1L554.7,2699.9Z" fill="#FF0000" stroke="#300000" stroke-width="1"/>
<path d="M567.8,2627.5L579.0,2638.7L567.8,2649.9L556.6,2638.7Z" fill="#FF0000" stroke="#300000" stroke-width="1"/>
<path d="M588.7,2551.3L599.9,2562.5L588.7,2573.7L577.5,2562.5Z" fill="#FF0000" stroke="#300000" stroke-width="1"/>
<path d="M619.7,2477.8L630.9,2489.0L619.7,2500.2L608.5,2489.0Z" fill="#FF0000" stroke="#300000" stroke-width="1"/>
<path d="M651.5,2410.0L662.7,2421.2L651.5,2432.4L640.3,2421.2Z" fill="#FF0000" stroke="#300000" stroke-width="1"/>
<path d="M669.7,2375.1L680.9,2386.3L669.7,2397.5L658.5,2386.3Z" fill="#FF0000" stroke="#300000" stroke-width="1"/>
<path d="M655.8,2398.4L667.0,2409.6L655.8,2420.8L644.6,2409.6Z" fill="#FF0000" stroke="#300000" stroke-width="1"/>
<path d="M638.7,2450.3L649.9,2461.5L638.7,2472.7L627.5,2461.5Z" fill="#FF0000" stroke="#300000" stroke-width="1"/>
<path d="M625.4,2514.7L636.6,2525.9L625.4,2537.1L614.2,2525.9Z" fill="#FF0000" stroke="#300000" stroke-width="1"/>
<path d="M630.5,2575.3L641.7,2586.5L630.5,2597.7L619.3,2586.5Z" fill="#FF0000" stroke="#300000" stroke-width="1"/>
<path d="M649.5,2616.4L660.7,2627.6L649.5,2638.8L638.3,2627.6Z" fill="#FF0000" stroke="#300000" stroke-width="1"/>
<path d="M677.3,2635.0L688.5,2646.2L677.3,2657.4L666.1,2646.2Z" fill="#FF0000" stroke="#300000" stroke-width="1"/>
<path d="M706.4,2622.6L717.6,2633.8L706.4,2645.0L695.2,2633.8Z" fill="#FF0000" stroke="#300000" stroke-width="1"/>
<path d="M724.2,2584.0L735.4,2595.2L724.2,2606.4L713.0,2595.2Z" fill="#FF0000" stroke="#300000" stroke-width="1"/>
<path d="M716.2,2539.5L727.4,2550.7L716.2,2561.9L705.0,2550.7Z" fill="#FF0000" stroke="#300000" stroke-width="1"/>
<path d="M682.4,2508.3L693.6,2519.5L682.4,2530.7L671.2,2519.5Z" fill="#FF0000" stroke="#300000" stroke-width="1"/>
<rect x="612.6" y="2468.2" width="23.0" height="23.0" fill="#fff" stroke="#333" stroke-width="1"/>
<path d="M492.4,2497.8L503.4,2508.8L492.4,2519.8L481.4,2508.8Z" fill="#fff" stroke="#222" stroke-width="1"/>
<path d="M317.7,2651.5L328.7,2662.5L317.7,2673.5L306.7,2662.5Z" fill="#fff" stroke="#222" stroke-width="1"/>
<path d="M269.5,2762.5L280.5,2773.5L269.5,2784.5L258.5,2773.5Z" fill="#fff" stroke="#222" stroke-width="1"/>
<path d="M287.3,2747.4L298.3,2758.4L287.3,2769.4L276.3,2758.4Z" fill="#fff" stroke="#222" stroke-width="1"/>
<path d="M550.7,2561.8L561.7,2572.8L550.7,2583.8L539.7,2572.8Z" fill="#E8853D" stroke="#5a2a00" stroke-width="1"/>
<rect x="619.0" y="2646.9" width="23.0" height="23.0" fill="#FF0000" stroke="#300000" stroke-width="1"/>
<rect x="659.5" y="2372.7" width="23.0" height="23.0" fill="#FF0000" stroke="#300000" stroke-width="1"/>
<g clip-path="url(#clip5)">
<rect x="187.0" y="2383.0" width="537.5" height="646.7" fill="none" stroke="#1a1aff" stroke-width="3.6"/>
<line x1="206.8" y1="3093.7" x2="760.9" y2="2415.4" stroke="#0000FF" stroke-width="5.5"/>
</g>
<path d="M355.7,2667.3H532.9V2938.7H355.7Z" fill="none" stroke="#33CCCC" stroke-width="4.5" stroke-dasharray="36.5 15.2" stroke-dashoffset="0"/>
<rect x="352.2" y="2663.8" width="7" height="7" fill="#33CCCC" stroke="#1a4d4d" stroke-width="1"/>
<rect x="529.4" y="2663.8" width="7" height="7" fill="#33CCCC" stroke="#1a4d4d" stroke-width="1"/>
<rect x="529.4" y="2935.2" width="7" height="7" fill="#33CCCC" stroke="#1a4d4d" stroke-width="1"/>
<rect x="352.2" y="2935.2" width="7" height="7" fill="#33CCCC" stroke="#1a4d4d" stroke-width="1"/>
<circle cx="444.3" cy="2803.0" r="13.5" fill="#00F0F0" stroke="#000" stroke-width="1"/>
<path d="M559.8,2595.5L595.7,2502.5" fill="none" stroke="#FF0000" stroke-width="4.6"/><path d="M595.8,2523.0L595.7,2502.5L581.8,2517.6" fill="none" stroke="#FF0000" stroke-width="4.6" stroke-linejoin="miter"/>
<path d="M744.4,2544.7L706.8,2515.7" fill="none" stroke="#FF0000" stroke-width="4.6"/><path d="M726.5,2521.4L706.8,2515.7L717.3,2533.3" fill="none" stroke="#FF0000" stroke-width="4.6" stroke-linejoin="miter"/>
<path d="M666.0,2527.6L637.0,2499.6" fill="none" stroke="#FF0000" stroke-width="4.5" stroke-dasharray="14.5 7"/><path d="M652.7,2506.1L637.0,2499.6L644.1,2515.1" fill="none" stroke="#FF0000" stroke-width="4.5" stroke-linejoin="miter"/>
<path d="M610.0,2566.8L622.3,2627.8" fill="none" stroke="#FF0000" stroke-width="4.6"/><path d="M611.2,2610.6L622.3,2627.8L625.9,2607.6" fill="none" stroke="#FF0000" stroke-width="4.6" stroke-linejoin="miter"/>
<path d="M685.3,2629.1L707.9,2599.0" fill="none" stroke="#FF0000" stroke-width="4.6"/><path d="M702.5,2618.8L707.9,2599.0L690.4,2609.7" fill="none" stroke="#FF0000" stroke-width="4.6" stroke-linejoin="miter"/>
<path d="M587.6,2689.2L609.1,2657.0" fill="none" stroke="#FF0000" stroke-width="4.6"/><path d="M604.8,2677.0L609.1,2657.0L592.3,2668.7" fill="none" stroke="#FF0000" stroke-width="4.6" stroke-linejoin="miter"/>
<path d="M648.8,2704.2L617.7,2740.7" fill="none" stroke="#FF0000" stroke-width="4.6"/><path d="M624.4,2721.3L617.7,2740.7L635.8,2731.1" fill="none" stroke="#FF0000" stroke-width="4.6" stroke-linejoin="miter"/>
<path d="M556.5,2814.8L586.6,2759.0" fill="none" stroke="#FF0000" stroke-width="4.6"/><path d="M584.2,2779.4L586.6,2759.0L570.9,2772.2" fill="none" stroke="#FF0000" stroke-width="4.6" stroke-linejoin="miter"/>
<path d="M593.6,2459.6L497.0,2483.1" fill="none" stroke="#FF0000" stroke-width="4.5" stroke-dasharray="14.5 7"/><path d="M510.9,2473.3L497.0,2483.1L513.8,2485.4" fill="none" stroke="#FF0000" stroke-width="4.5" stroke-linejoin="miter"/>
<path d="M440.6,2528.8L364.9,2591.6" fill="none" stroke="#FF0000" stroke-width="4.5" stroke-dasharray="14.5 7"/><path d="M373.1,2576.7L364.9,2591.6L381.1,2586.3" fill="none" stroke="#FF0000" stroke-width="4.5" stroke-linejoin="miter"/>
<path d="M319.8,2627.1L258.6,2718.8" fill="none" stroke="#FF0000" stroke-width="4.5" stroke-dasharray="14.5 7"/><path d="M262.2,2702.2L258.6,2718.8L272.6,2709.1" fill="none" stroke="#FF0000" stroke-width="4.5" stroke-linejoin="miter"/>
<path d="M318.2,2755.9L514.7,2617.4" fill="none" stroke="#FF0000" stroke-width="4.5" stroke-dasharray="14.5 7"/><path d="M505.4,2631.6L514.7,2617.4L498.2,2621.4" fill="none" stroke="#FF0000" stroke-width="4.5" stroke-linejoin="miter"/>
<path d="M671.0,2376.0L679.2,2384.2L671.0,2392.4L662.8,2384.2Z" fill="#0000FF" stroke="#000060" stroke-width="1"/>
<path d="M724.2,2587.0L732.4,2595.2L724.2,2603.4L716.0,2595.2Z" fill="#0000FF" stroke="#000060" stroke-width="1"/>
<path d="M186.5,2994.8L194.7,3003.0L186.5,3011.2L178.3,3003.0Z" fill="#0000FF" stroke="#000060" stroke-width="1"/>
<path d="M260.0,3021.5L268.2,3029.7L260.0,3037.9L251.8,3029.7Z" fill="#0000FF" stroke="#000060" stroke-width="1"/>
<rect x="130.9" y="2319.6" width="172.7" height="73.5" fill="#fff" stroke="#000" stroke-width="1.7"/><text x="217.2" y="2350.6" font-size="28.2" font-weight="bold" font-style="italic" text-anchor="middle" xml:space="preserve"><tspan fill="#000">Cold  Days</tspan></text><text x="217.2" y="2382.2" font-size="28.2" font-weight="bold" font-style="italic" text-anchor="middle" xml:space="preserve"><tspan fill="#000">Hot Nights</tspan></text><rect x="439.5" y="2319.6" width="319.2" height="40.5" fill="#fff" stroke="#000" stroke-width="1.7"/><text x="599.1" y="2349.9" font-size="28.2" font-weight="bold" font-style="italic" text-anchor="middle" xml:space="preserve"><tspan fill="#000">Hot  Days Hot Nights</tspan></text><rect x="132.2" y="3051.8" width="326.4" height="39.2" fill="#fff" stroke="#000" stroke-width="1.7"/><text x="295.4" y="3081.4" font-size="28.2" font-weight="bold" font-style="italic" text-anchor="middle" xml:space="preserve"><tspan fill="#000">Cold  Days Cold Nights</tspan></text><rect x="576.7" y="3013.0" width="178.9" height="76.0" fill="#fff" stroke="#000" stroke-width="1.7"/><text x="666.2" y="3045.2" font-size="28.2" font-weight="bold" font-style="italic" text-anchor="middle" xml:space="preserve"><tspan fill="#000">Hot  Days</tspan></text><text x="666.2" y="3076.8" font-size="28.2" font-weight="bold" font-style="italic" text-anchor="middle" xml:space="preserve"><tspan fill="#000">Cold Nights</tspan></text><path d="M637.0,2379.5L665.0,2383.7L637.0,2391.2Z" fill="#0000FF"/><rect x="519.3" y="2372.8" width="117.7" height="42.8" fill="#0000FF"/><text x="578.1" y="2404.1" font-size="28" font-weight="bold" font-style="italic" fill="#fff" text-anchor="middle" >Jan-19</text><path d="M642.0,2438.4L756.2,2438.4L756.2,2480.3L689.6,2480.3L674.6,2512.5L659.6,2480.3L642.0,2480.3Z" fill="#000" stroke="#000" stroke-width="3" transform="translate(1.2,1.2)"/><path d="M642.0,2438.4L756.2,2438.4L756.2,2480.3L689.6,2480.3L674.6,2512.5L659.6,2480.3L642.0,2480.3Z" fill="#FF0000" stroke="#000" stroke-width="3" stroke-linejoin="miter"/><text x="699.1" y="2469.3" font-size="28" font-weight="bold" font-style="normal" fill="#fff" text-anchor="middle" >Dec-19</text><path d="M393.9,2562.0L506.6,2562.0L506.6,2567.5L544.0,2572.3L506.6,2578.7L506.6,2602.3L393.9,2602.3Z" fill="#000" stroke="#000" stroke-width="3" transform="translate(1.2,1.2)"/><path d="M393.9,2562.0L506.6,2562.0L506.6,2567.5L544.0,2572.3L506.6,2578.7L506.6,2602.3L393.9,2602.3Z" fill="#E8853D" stroke="#000" stroke-width="3" stroke-linejoin="miter"/><text x="450.2" y="2592.1" font-size="28" font-weight="bold" font-style="normal" fill="#fff" text-anchor="middle" >Jun-20</text><path d="M712.0,2657.0L724.0,2598.0L738.0,2657.0Z" fill="#0000FF"/><rect x="648.2" y="2657.0" width="111.2" height="42.9" fill="#0000FF"/><text x="703.8" y="2688.4" font-size="28" font-weight="bold" font-style="italic" fill="#fff" text-anchor="middle" >Oct-19</text><path d="M358.5,2814.7L472.0,2814.7L472.0,2816.5L501.0,2813.5L472.0,2832.0L472.0,2861.5L358.5,2861.5Z" fill="#000" stroke="#000" stroke-width="3" transform="translate(1.2,1.2)"/><path d="M358.5,2814.7L472.0,2814.7L472.0,2816.5L501.0,2813.5L472.0,2832.0L472.0,2861.5L358.5,2861.5Z" fill="#FF0000" stroke="#000" stroke-width="3" stroke-linejoin="miter"/><text x="415.2" y="2848.0" font-size="28" font-weight="bold" font-style="normal" fill="#fff" text-anchor="middle" >Jul-17</text><path d="M155.9,2976.6L186.4,3000.0L183.9,2976.6Z" fill="#0000FF"/><rect x="140.3" y="2936.0" width="122.7" height="40.6" fill="#0000FF"/><text x="201.7" y="2966.2" font-size="28" font-weight="bold" font-style="italic" fill="#fff" text-anchor="middle" >Jan-12</text><path d="M277.4,3011.1L264.0,3029.8L277.4,3029.8Z" fill="#0000FF"/><rect x="277.4" y="2996.8" width="116.6" height="42.4" fill="#0000FF"/><text x="335.7" y="3027.9" font-size="28" font-weight="bold" font-style="italic" fill="#fff" text-anchor="middle" >Mar-08</text></g>
<g id="p6"><rect x="838.5" y="2174.4" width="784.7" height="1034.6" fill="#fff" stroke="#4a4a4a" stroke-width="1.2"/>
<text x="1235.0" y="2219.6" font-size="32.7" font-weight="normal" font-style="normal" fill="#000" text-anchor="middle" >Smoothed Monthly Max Temp and</text>
<text x="1235.0" y="2256.9" font-size="32.7" font-weight="normal" font-style="normal" fill="#000" text-anchor="middle" >Subsoil Temp Anomalies, Manilla NSW</text>
<text x="1235.0" y="2290.7" font-size="28.2" font-weight="bold" font-style="normal" fill="#000" text-anchor="middle" >Jul-17 to Jun-20</text>
<path d="M962.4,2314.5V3090.5M1024.0,2314.5V3090.5M1085.6,2314.5V3090.5M1147.3,2314.5V3090.5M1208.9,2314.5V3090.5M1270.5,2314.5V3090.5M1332.1,2314.5V3090.5M1393.7,2314.5V3090.5M1455.4,2314.5V3090.5M1517.0,2314.5V3090.5M1578.6,2314.5V3090.5M962.4,2314.5H1578.6M962.4,2411.5H1578.6M962.4,2508.5H1578.6M962.4,2605.5H1578.6M962.4,2702.5H1578.6M962.4,2799.5H1578.6M962.4,2896.5H1578.6M962.4,2993.5H1578.6M962.4,3090.5H1578.6" stroke="#1a1a1a" stroke-width="1.1" fill="none"/>
<rect x="962.4" y="2314.5" width="616.1999999999999" height="776.0" fill="none" stroke="#808080" stroke-width="1.6"/>
<path d="M962.4,2314.5V3090.5M962.4,3090.5H1578.6M962.4,3090.5v8.5M974.7,3090.5v-5M987.0,3090.5v-5M999.4,3090.5v-5M1011.7,3090.5v-5M1024.0,3090.5v8.5M1036.3,3090.5v-5M1048.7,3090.5v-5M1061.0,3090.5v-5M1073.3,3090.5v-5M1085.6,3090.5v8.5M1098.0,3090.5v-5M1110.3,3090.5v-5M1122.6,3090.5v-5M1134.9,3090.5v-5M1147.3,3090.5v8.5M1159.6,3090.5v-5M1171.9,3090.5v-5M1184.2,3090.5v-5M1196.6,3090.5v-5M1208.9,3090.5v8.5M1221.2,3090.5v-5M1233.5,3090.5v-5M1245.9,3090.5v-5M1258.2,3090.5v-5M1270.5,3090.5v8.5M1282.8,3090.5v-5M1295.1,3090.5v-5M1307.5,3090.5v-5M1319.8,3090.5v-5M1332.1,3090.5v8.5M1344.4,3090.5v-5M1356.8,3090.5v-5M1369.1,3090.5v-5M1381.4,3090.5v-5M1393.7,3090.5v8.5M1406.1,3090.5v-5M1418.4,3090.5v-5M1430.7,3090.5v-5M1443.0,3090.5v-5M1455.4,3090.5v8.5M1467.7,3090.5v-5M1480.0,3090.5v-5M1492.3,3090.5v-5M1504.7,3090.5v-5M1517.0,3090.5v8.5M1529.3,3090.5v-5M1541.6,3090.5v-5M1554.0,3090.5v-5M1566.3,3090.5v-5M1578.6,3090.5v8.5M962.4,2314.5h-8.5M962.4,2411.5h-8.5M962.4,2508.5h-8.5M962.4,2605.5h-8.5M962.4,2702.5h-8.5M962.4,2799.5h-8.5M962.4,2896.5h-8.5M962.4,2993.5h-8.5M962.4,3090.5h-8.5M962.4,2333.9h5M962.4,2353.3h5M962.4,2372.7h5M962.4,2392.1h5M962.4,2430.9h5M962.4,2450.3h5M962.4,2469.7h5M962.4,2489.1h5M962.4,2527.9h5M962.4,2547.3h5M962.4,2566.7h5M962.4,2586.1h5M962.4,2624.9h5M962.4,2644.3h5M962.4,2663.7h5M962.4,2683.1h5M962.4,2721.9h5M962.4,2741.3h5M962.4,2760.7h5M962.4,2780.1h5M962.4,2818.9h5M962.4,2838.3h5M962.4,2857.7h5M962.4,2877.1h5M962.4,2915.9h5M962.4,2935.3h5M962.4,2954.7h5M962.4,2974.1h5M962.4,3012.9h5M962.4,3032.3h5M962.4,3051.7h5M962.4,3071.1h5" stroke="#000" stroke-width="1.2" fill="none"/>
<text transform="translate(962.4,3130.5) scale(0.74,1)" font-size="27.8" fill="#000" text-anchor="middle">-2.5°</text>
<text transform="translate(1024.0,3130.5) scale(0.74,1)" font-size="27.8" fill="#000" text-anchor="middle">-2.0°</text>
<text transform="translate(1085.6,3130.5) scale(0.74,1)" font-size="27.8" fill="#000" text-anchor="middle">-1.5°</text>
<text transform="translate(1147.3,3130.5) scale(0.74,1)" font-size="27.8" fill="#000" text-anchor="middle">-1.0°</text>
<text transform="translate(1208.9,3130.5) scale(0.74,1)" font-size="27.8" fill="#000" text-anchor="middle">-0.5°</text>
<text transform="translate(1270.5,3130.5) scale(0.74,1)" font-size="27.8" fill="#000" text-anchor="middle">0.0°</text>
<text transform="translate(1332.1,3130.5) scale(0.74,1)" font-size="27.8" fill="#000" text-anchor="middle">0.5°</text>
<text transform="translate(1393.7,3130.5) scale(0.74,1)" font-size="27.8" fill="#000" text-anchor="middle">1.0°</text>
<text transform="translate(1455.4,3130.5) scale(0.74,1)" font-size="27.8" fill="#000" text-anchor="middle">1.5°</text>
<text transform="translate(1517.0,3130.5) scale(0.74,1)" font-size="27.8" fill="#000" text-anchor="middle">2.0°</text>
<text transform="translate(1578.6,3130.5) scale(0.74,1)" font-size="27.8" fill="#000" text-anchor="middle">2.5°</text>
<text transform="translate(938.9,2323.0) scale(1.0,1)" font-size="25" fill="#000" text-anchor="end">2.5°</text>
<text transform="translate(938.9,2420.0) scale(1.0,1)" font-size="25" fill="#000" text-anchor="end">2.0°</text>
<text transform="translate(938.9,2517.0) scale(1.0,1)" font-size="25" fill="#000" text-anchor="end">1.5°</text>
<text transform="translate(938.9,2614.0) scale(1.0,1)" font-size="25" fill="#000" text-anchor="end">1.0°</text>
<text transform="translate(938.9,2711.0) scale(1.0,1)" font-size="25" fill="#000" text-anchor="end">0.5°</text>
<text transform="translate(938.9,2808.0) scale(1.0,1)" font-size="25" fill="#000" text-anchor="end">0.0°</text>
<text transform="translate(938.9,2905.0) scale(1.0,1)" font-size="25" fill="#000" text-anchor="end">-0.5°</text>
<text transform="translate(938.9,3002.0) scale(1.0,1)" font-size="25" fill="#000" text-anchor="end">-1.0°</text>
<text transform="translate(938.9,3099.0) scale(1.0,1)" font-size="25" fill="#000" text-anchor="end">-1.5°</text>
<text transform="translate(1275.2,3186.1) scale(1.0,1)" font-size="28" fill="#000" text-anchor="middle">Daily Max Temp Anomaly</text>
<text transform="translate(886.7,2708) rotate(-90) scale(0.787,1)" font-size="34" text-anchor="middle">Subsoil Temp Anomaly</text>
<clipPath id="clip6"><rect x="962.4" y="2313.5" width="617.1999999999999" height="778.0"/></clipPath>
<path d="M1502.2,2764.6C1492.7,2768.9 1465.6,2785.2 1445.5,2790.4C1425.4,2795.6 1402.8,2794.1 1381.4,2795.6C1360.1,2797.1 1342.0,2797.6 1317.3,2799.5C1292.7,2801.4 1261.9,2804.1 1233.5,2807.3C1205.2,2810.5 1166.0,2817.8 1147.3,2818.7C1128.5,2819.6 1127.9,2815.6 1121.0,2812.5C1114.1,2809.4 1109.4,2803.7 1105.7,2800.3C1102.1,2796.8 1100.7,2797.0 1099.2,2791.9C1097.7,2786.9 1097.0,2776.3 1096.7,2769.8C1096.4,2763.4 1096.0,2759.7 1097.5,2753.3C1099.0,2746.9 1102.4,2737.7 1105.7,2731.4C1109.1,2725.1 1105.0,2729.5 1117.7,2715.3C1130.4,2701.1 1160.4,2669.3 1181.8,2646.2C1203.1,2623.2 1224.5,2599.9 1245.9,2577.0C1267.2,2554.0 1288.5,2531.6 1309.9,2508.5C1331.4,2485.4 1363.9,2450.3 1374.6,2438.7" fill="none" stroke="#FF0000" stroke-width="4.5" stroke-dasharray="11 7"/>
<path d="M1334.6,2799.5C1336.2,2806.4 1340.7,2825.3 1344.4,2840.6C1348.1,2856.0 1350.6,2876.4 1356.8,2891.7C1362.9,2906.9 1373.6,2922.2 1381.4,2932.4C1389.2,2942.6 1395.8,2950.6 1403.6,2952.8C1411.4,2954.9 1420.2,2952.9 1428.2,2945.4C1436.3,2937.9 1445.7,2924.0 1451.7,2907.6C1457.6,2891.1 1460.9,2869.4 1464.0,2846.6C1467.1,2823.9 1469.9,2796.0 1470.1,2771.2C1470.4,2746.3 1469.1,2717.9 1465.2,2697.5C1461.3,2677.0 1453.4,2660.1 1446.7,2648.6C1440.1,2637.0 1432.4,2628.0 1425.2,2628.0C1418.0,2628.0 1409.7,2637.3 1403.6,2648.6C1397.5,2659.8 1391.0,2677.8 1388.8,2695.5C1386.7,2713.2 1387.0,2736.8 1390.7,2754.7C1394.4,2772.6 1402.6,2791.5 1411.0,2803.0C1419.4,2814.5 1431.0,2822.8 1441.2,2823.6C1451.4,2824.3 1463.8,2817.3 1472.1,2807.3C1480.4,2797.3 1488.1,2781.1 1491.1,2763.6C1494.1,2746.2 1492.3,2723.6 1489.9,2702.5C1487.4,2681.4 1481.3,2657.1 1476.3,2637.1C1471.3,2617.1 1464.6,2598.0 1459.7,2582.6C1454.7,2567.2 1448.1,2553.4 1446.7,2544.8C1445.4,2536.2 1447.8,2531.2 1451.7,2531.0C1455.6,2530.8 1462.5,2534.8 1470.1,2543.4C1477.7,2552.0 1488.0,2567.0 1497.3,2582.6C1506.5,2598.2 1518.0,2619.0 1525.6,2637.1C1533.2,2655.3 1541.3,2675.0 1542.9,2691.4C1544.4,2707.8 1541.9,2723.3 1535.1,2735.5C1528.3,2747.7 1507.7,2759.7 1502.2,2764.6" fill="none" stroke="#FF0000" stroke-width="7.5" stroke-linejoin="round"/>
<path d="M1334.6,2788.3L1345.8,2799.5L1334.6,2810.7L1323.4,2799.5Z" fill="#FF0000" stroke="#300000" stroke-width="1"/>
<path d="M1344.4,2829.4L1355.6,2840.6L1344.4,2851.8L1333.2,2840.6Z" fill="#FF0000" stroke="#300000" stroke-width="1"/>
<path d="M1356.8,2880.5L1368.0,2891.7L1356.8,2902.8L1345.6,2891.7Z" fill="#FF0000" stroke="#300000" stroke-width="1"/>
<path d="M1381.4,2921.2L1392.6,2932.4L1381.4,2943.6L1370.2,2932.4Z" fill="#FF0000" stroke="#300000" stroke-width="1"/>
<path d="M1403.6,2941.6L1414.8,2952.8L1403.6,2964.0L1392.4,2952.8Z" fill="#FF0000" stroke="#300000" stroke-width="1"/>
<path d="M1428.2,2934.2L1439.4,2945.4L1428.2,2956.6L1417.0,2945.4Z" fill="#FF0000" stroke="#300000" stroke-width="1"/>
<path d="M1464.0,2835.4L1475.2,2846.6L1464.0,2857.8L1452.8,2846.6Z" fill="#FF0000" stroke="#300000" stroke-width="1"/>
<path d="M1470.1,2760.0L1481.3,2771.2L1470.1,2782.4L1458.9,2771.2Z" fill="#FF0000" stroke="#300000" stroke-width="1"/>
<path d="M1465.2,2686.3L1476.4,2697.5L1465.2,2708.7L1454.0,2697.5Z" fill="#FF0000" stroke="#300000" stroke-width="1"/>
<path d="M1446.7,2637.4L1457.9,2648.6L1446.7,2659.8L1435.5,2648.6Z" fill="#FF0000" stroke="#300000" stroke-width="1"/>
<path d="M1425.2,2616.8L1436.4,2628.0L1425.2,2639.2L1414.0,2628.0Z" fill="#FF0000" stroke="#300000" stroke-width="1"/>
<path d="M1403.6,2637.4L1414.8,2648.6L1403.6,2659.8L1392.4,2648.6Z" fill="#FF0000" stroke="#300000" stroke-width="1"/>
<path d="M1388.8,2684.3L1400.0,2695.5L1388.8,2706.7L1377.6,2695.5Z" fill="#FF0000" stroke="#300000" stroke-width="1"/>
<path d="M1390.7,2743.5L1401.9,2754.7L1390.7,2765.9L1379.5,2754.7Z" fill="#FF0000" stroke="#300000" stroke-width="1"/>
<path d="M1411.0,2791.8L1422.2,2803.0L1411.0,2814.2L1399.8,2803.0Z" fill="#FF0000" stroke="#300000" stroke-width="1"/>
<path d="M1441.2,2812.4L1452.4,2823.6L1441.2,2834.8L1430.0,2823.6Z" fill="#FF0000" stroke="#300000" stroke-width="1"/>
<path d="M1472.1,2796.1L1483.3,2807.3L1472.1,2818.5L1460.9,2807.3Z" fill="#FF0000" stroke="#300000" stroke-width="1"/>
<path d="M1489.9,2691.3L1501.1,2702.5L1489.9,2713.7L1478.7,2702.5Z" fill="#FF0000" stroke="#300000" stroke-width="1"/>
<path d="M1476.3,2625.9L1487.5,2637.1L1476.3,2648.3L1465.1,2637.1Z" fill="#FF0000" stroke="#300000" stroke-width="1"/>
<path d="M1459.7,2571.4L1470.9,2582.6L1459.7,2593.8L1448.5,2582.6Z" fill="#FF0000" stroke="#300000" stroke-width="1"/>
<path d="M1446.7,2533.6L1457.9,2544.8L1446.7,2556.0L1435.5,2544.8Z" fill="#FF0000" stroke="#300000" stroke-width="1"/>
<path d="M1451.7,2519.8L1462.9,2531.0L1451.7,2542.2L1440.5,2531.0Z" fill="#FF0000" stroke="#300000" stroke-width="1"/>
<path d="M1470.1,2532.2L1481.3,2543.4L1470.1,2554.6L1458.9,2543.4Z" fill="#FF0000" stroke="#300000" stroke-width="1"/>
<path d="M1497.3,2571.4L1508.5,2582.6L1497.3,2593.8L1486.1,2582.6Z" fill="#FF0000" stroke="#300000" stroke-width="1"/>
<path d="M1525.6,2625.9L1536.8,2637.1L1525.6,2648.3L1514.4,2637.1Z" fill="#FF0000" stroke="#300000" stroke-width="1"/>
<path d="M1542.9,2680.2L1554.1,2691.4L1542.9,2702.6L1531.7,2691.4Z" fill="#FF0000" stroke="#300000" stroke-width="1"/>
<path d="M1535.1,2724.3L1546.3,2735.5L1535.1,2746.7L1523.9,2735.5Z" fill="#FF0000" stroke="#300000" stroke-width="1"/>
<path d="M1502.2,2753.4L1513.4,2764.6L1502.2,2775.8L1491.0,2764.6Z" fill="#FF0000" stroke="#300000" stroke-width="1"/>
<rect x="1434.0" y="2778.9" width="23.0" height="23.0" fill="#fff" stroke="#333" stroke-width="1"/>
<path d="M1317.3,2788.5L1328.3,2799.5L1317.3,2810.5L1306.3,2799.5Z" fill="#fff" stroke="#222" stroke-width="1"/>
<path d="M1147.3,2807.7L1158.3,2818.7L1147.3,2829.7L1136.3,2818.7Z" fill="#fff" stroke="#222" stroke-width="1"/>
<path d="M1100.4,2780.9L1111.4,2791.9L1100.4,2802.9L1089.4,2791.9Z" fill="#fff" stroke="#222" stroke-width="1"/>
<path d="M1117.7,2704.3L1128.7,2715.3L1117.7,2726.3L1106.7,2715.3Z" fill="#fff" stroke="#222" stroke-width="1"/>
<path d="M1374.0,2427.7L1385.0,2438.7L1374.0,2449.7L1363.0,2438.7Z" fill="#E8853D" stroke="#5a2a00" stroke-width="1"/>
<rect x="1440.2" y="2896.1" width="23.0" height="23.0" fill="#FF0000" stroke="#300000" stroke-width="1"/>
<rect x="1479.6" y="2752.1" width="23.0" height="23.0" fill="#FF0000" stroke="#300000" stroke-width="1"/>
<g clip-path="url(#clip6)">
<rect x="1020.3" y="2343.0" width="523.5" height="681.3" fill="none" stroke="#1a1aff" stroke-width="3.6"/>
<line x1="1085.6" y1="3090.5" x2="1578.6" y2="2314.5" stroke="#0000FF" stroke-width="5.5"/>
</g>
<path d="M1184.2,2663.7H1356.8V2935.3H1184.2Z" fill="none" stroke="#33CCCC" stroke-width="4.5" stroke-dasharray="36.5 15.2" stroke-dashoffset="0"/>
<rect x="1180.7" y="2660.2" width="7" height="7" fill="#33CCCC" stroke="#1a4d4d" stroke-width="1"/>
<rect x="1353.3" y="2660.2" width="7" height="7" fill="#33CCCC" stroke="#1a4d4d" stroke-width="1"/>
<rect x="1353.3" y="2931.8" width="7" height="7" fill="#33CCCC" stroke="#1a4d4d" stroke-width="1"/>
<rect x="1180.7" y="2931.8" width="7" height="7" fill="#33CCCC" stroke="#1a4d4d" stroke-width="1"/>
<circle cx="1270.5" cy="2799.5" r="11.6" fill="#00F0F0" stroke="#000" stroke-width="1"/>
<path d="M1369.8,2695.3L1369.8,2754.6" fill="none" stroke="#FF0000" stroke-width="4.6"/><path d="M1362.3,2735.5L1369.8,2754.6L1377.3,2735.5" fill="none" stroke="#FF0000" stroke-width="4.6" stroke-linejoin="miter"/>
<path d="M1448.4,2745.0L1441.5,2671.8" fill="none" stroke="#FF0000" stroke-width="4.6"/><path d="M1450.8,2690.1L1441.5,2671.8L1435.8,2691.5" fill="none" stroke="#FF0000" stroke-width="4.6" stroke-linejoin="miter"/>
<path d="M1501.0,2679.0L1481.6,2595.0" fill="none" stroke="#FF0000" stroke-width="4.6"/><path d="M1493.2,2611.9L1481.6,2595.0L1478.6,2615.3" fill="none" stroke="#FF0000" stroke-width="4.6" stroke-linejoin="miter"/>
<path d="M1488.5,2545.7L1529.9,2614.7" fill="none" stroke="#FF0000" stroke-width="4.6"/><path d="M1513.6,2602.2L1529.9,2614.7L1526.5,2594.5" fill="none" stroke="#FF0000" stroke-width="4.6" stroke-linejoin="miter"/>
<path d="M1357.3,2829.2L1372.5,2895.4" fill="none" stroke="#FF0000" stroke-width="4.6"/><path d="M1360.9,2878.5L1372.5,2895.4L1375.6,2875.1" fill="none" stroke="#FF0000" stroke-width="4.6" stroke-linejoin="miter"/>
<path d="M1427.7,2923.5L1444.3,2864.2" fill="none" stroke="#FF0000" stroke-width="4.6"/><path d="M1446.4,2884.6L1444.3,2864.2L1431.9,2880.5" fill="none" stroke="#FF0000" stroke-width="4.6" stroke-linejoin="miter"/>
<path d="M1393.2,2809.9L1346.3,2812.6" fill="none" stroke="#FF0000" stroke-width="4.5" stroke-dasharray="17 7.5"/><path d="M1361.7,2805.5L1346.3,2812.6L1362.4,2817.9" fill="none" stroke="#FF0000" stroke-width="4.5" stroke-linejoin="miter"/>
<path d="M1288.0,2819.5L1188.5,2833.3" fill="none" stroke="#FF0000" stroke-width="4.5" stroke-dasharray="17 7.5"/><path d="M1203.3,2825.0L1188.5,2833.3L1205.0,2837.3" fill="none" stroke="#FF0000" stroke-width="4.5" stroke-linejoin="miter"/>
<path d="M1068.4,2779.5L1076.7,2728.4" fill="none" stroke="#FF0000" stroke-width="4.5" stroke-dasharray="17 7.5"/><path d="M1080.3,2745.0L1076.7,2728.4L1068.0,2743.0" fill="none" stroke="#FF0000" stroke-width="4.5" stroke-linejoin="miter"/>
<path d="M1118.1,2677.3L1274.5,2516.7" fill="none" stroke="#FF0000" stroke-width="4.5" stroke-dasharray="17 7.5"/><path d="M1267.9,2532.4L1274.5,2516.7L1259.0,2523.7" fill="none" stroke="#FF0000" stroke-width="4.5" stroke-linejoin="miter"/>
<path d="M1542.9,2683.2L1551.1,2691.4L1542.9,2699.6L1534.7,2691.4Z" fill="#0000FF" stroke="#000060" stroke-width="1"/>
<path d="M1381.4,2334.8L1389.6,2343.0L1381.4,2351.2L1373.2,2343.0Z" fill="#0000FF" stroke="#000060" stroke-width="1"/>
<path d="M1020.3,2763.0L1028.5,2771.2L1020.3,2779.4L1012.1,2771.2Z" fill="#0000FF" stroke="#000060" stroke-width="1"/>
<path d="M1270.5,3016.1L1278.7,3024.3L1270.5,3032.5L1262.3,3024.3Z" fill="#0000FF" stroke="#000060" stroke-width="1"/>
<rect x="968.0" y="2317.0" width="155.0" height="75.0" fill="#fff" stroke="#000" stroke-width="1.7"/><text x="1045.5" y="2348.7" font-size="28.2" font-weight="bold" font-style="italic" text-anchor="middle" xml:space="preserve"><tspan fill="#000">Cold Days</tspan></text><text x="1045.5" y="2380.3" font-size="28.2" font-weight="bold" font-style="italic" text-anchor="middle" xml:space="preserve"><tspan fill="#000">Hot Soil</tspan></text><rect x="1430.5" y="2317.0" width="144.9" height="74.0" fill="#fff" stroke="#000" stroke-width="1.7"/><text x="1503.0" y="2348.2" font-size="28.2" font-weight="bold" font-style="italic" text-anchor="middle" xml:space="preserve"><tspan fill="#000">Hot Days</tspan></text><text x="1503.0" y="2379.8" font-size="28.2" font-weight="bold" font-style="italic" text-anchor="middle" xml:space="preserve"><tspan fill="#000">Hot Soil</tspan></text><rect x="966.0" y="3012.4" width="160.0" height="75.4" fill="#fff" stroke="#000" stroke-width="1.7"/><text x="1046.0" y="3044.3" font-size="28.2" font-weight="bold" font-style="italic" text-anchor="middle" xml:space="preserve"><tspan fill="#000">Cold Days</tspan></text><text x="1046.0" y="3075.9" font-size="28.2" font-weight="bold" font-style="italic" text-anchor="middle" xml:space="preserve"><tspan fill="#000">Cold Soil</tspan></text><rect x="1422.2" y="3012.4" width="153.3" height="75.4" fill="#fff" stroke="#000" stroke-width="1.7"/><text x="1498.8" y="3044.3" font-size="28.2" font-weight="bold" font-style="italic" text-anchor="middle" xml:space="preserve"><tspan fill="#000">Hot Days</tspan></text><text x="1498.8" y="3075.9" font-size="28.2" font-weight="bold" font-style="italic" text-anchor="middle" xml:space="preserve"><tspan fill="#000">Cold Soil</tspan></text><path d="M1351.0,2336.0L1378.0,2342.2L1351.0,2352.0Z" fill="#0000FF"/><rect x="1246.0" y="2331.0" width="105.0" height="43.0" fill="#0000FF"/><text x="1298.5" y="2362.4" font-size="28" font-weight="bold" font-style="italic" fill="#fff" text-anchor="middle" >Jul-13</text><path d="M1222.0,2406.0L1336.0,2406.0L1336.0,2428.0L1368.0,2438.0L1336.0,2446.0L1336.0,2453.0L1222.0,2453.0Z" fill="#000" stroke="#000" stroke-width="3" transform="translate(1.2,1.2)"/><path d="M1222.0,2406.0L1336.0,2406.0L1336.0,2428.0L1368.0,2438.0L1336.0,2446.0L1336.0,2453.0L1222.0,2453.0Z" fill="#E8853D" stroke="#000" stroke-width="3" stroke-linejoin="miter"/><text x="1279.0" y="2439.4" font-size="28" font-weight="bold" font-style="normal" fill="#fff" text-anchor="middle" >Jun-20</text><path d="M1415.0,2506.5L1451.2,2530.5L1440.0,2506.5Z" fill="#FF0000"/><rect x="1342.2" y="2464.8" width="122.3" height="41.7" fill="#FF0000"/><text x="1403.3" y="2495.6" font-size="28" font-weight="bold" font-style="normal" fill="#fff" text-anchor="middle" >Jun-19</text><path d="M1531.0,2533.3L1543.1,2691.0L1557.0,2533.3Z" fill="#0000FF"/><rect x="1471.4" y="2496.0" width="103.2" height="37.3" fill="#0000FF"/><text x="1523.0" y="2524.6" font-size="28" font-weight="bold" font-style="italic" fill="#fff" text-anchor="middle" >Oct-19</text><path d="M1387.2,2606.0L1418.0,2626.0L1387.2,2627.0Z" fill="#FF0000"/><rect x="1264.8" y="2587.1" width="122.4" height="42.9" fill="#FF0000"/><text x="1326.0" y="2618.5" font-size="28" font-weight="bold" font-style="normal" fill="#fff" text-anchor="middle" >Jun-18</text><path d="M1006.0,2806.3L1020.1,2776.0L1034.0,2806.3Z" fill="#0000FF"/><rect x="986.1" y="2806.3" width="117.4" height="43.6" fill="#0000FF"/><text x="1044.8" y="2838.0" font-size="28" font-weight="bold" font-style="italic" fill="#fff" text-anchor="middle" >Jan-12</text><path d="M1255.0,3046.0L1269.5,3030.0L1283.0,3046.0Z" fill="#0000FF"/><rect x="1233.0" y="3046.0" width="119.0" height="36.0" fill="#0000FF"/><text x="1292.5" y="3073.9" font-size="28" font-weight="bold" font-style="italic" fill="#fff" text-anchor="middle" >Nov-16</text><path d="M1238.5,2731.0L1347.3,2731.0L1347.3,2772.4L1327.9,2772.4L1328.7,2795.2L1301.7,2772.4L1238.5,2772.4Z" fill="#000" stroke="#000" stroke-width="3" transform="translate(1.2,1.2)"/><path d="M1238.5,2731.0L1347.3,2731.0L1347.3,2772.4L1327.9,2772.4L1328.7,2795.2L1301.7,2772.4L1238.5,2772.4Z" fill="#FF0000" stroke="#000" stroke-width="3" stroke-linejoin="miter"/><text x="1292.9" y="2761.6" font-size="28" font-weight="bold" font-style="normal" fill="#fff" text-anchor="middle" >Jul-17</text><path d="M1468.0,2828.0L1487.0,2828.0L1498.0,2775.0L1515.0,2828.0L1576.0,2828.0L1576.0,2871.0L1468.0,2871.0Z" fill="#000" stroke="#000" stroke-width="3" transform="translate(1.2,1.2)"/><path d="M1468.0,2828.0L1487.0,2828.0L1498.0,2775.0L1515.0,2828.0L1576.0,2828.0L1576.0,2871.0L1468.0,2871.0Z" fill="#FF0000" stroke="#000" stroke-width="3" stroke-linejoin="miter"/><text x="1522.0" y="2859.4" font-size="28" font-weight="bold" font-style="normal" fill="#fff" text-anchor="middle" >Dec-19</text></g>
</svg>
</body></html>
